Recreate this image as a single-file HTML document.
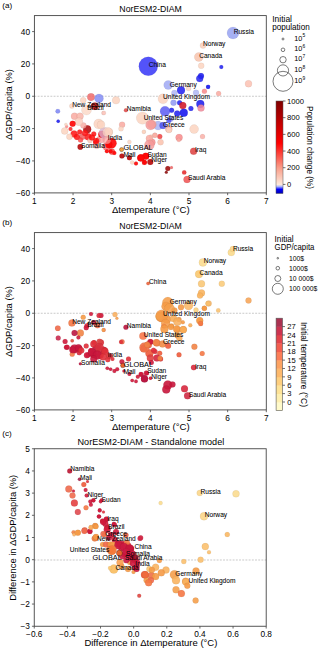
<!DOCTYPE html><html><head><meta charset="utf-8"><style>html,body{margin:0;padding:0;background:#fff;width:320px;height:652px;overflow:hidden}svg{display:block}text{font-family:"Liberation Sans",sans-serif}</style></head><body>
<svg width="320" height="652" viewBox="0 0 320 652">
<rect width="320" height="652" fill="#fff"/>
<text x="2.3" y="8.1" font-size="8.1" text-anchor="start" fill="#000" >(a)</text>
<text x="2.3" y="225.4" font-size="8.1" text-anchor="start" fill="#000" >(b)</text>
<text x="2.3" y="435.5" font-size="8.1" text-anchor="start" fill="#000" >(c)</text>
<line x1="34.4" y1="96.25" x2="266.3" y2="96.25" stroke="#bbb" stroke-width="0.8" stroke-dasharray="1.9,1.3"/>
<circle cx="148.3" cy="66.3" r="9.5" fill="#4040f8" fill-opacity="0.9" stroke="#000" stroke-opacity="0.12" stroke-width="0.4"/>
<circle cx="233" cy="33" r="6" fill="#97a2f2" fill-opacity="0.85" stroke="#000" stroke-opacity="0.12" stroke-width="0.4"/>
<circle cx="203" cy="45.5" r="3" fill="#fbd3bf" fill-opacity="0.9" stroke="#000" stroke-opacity="0.12" stroke-width="0.4"/>
<circle cx="198.8" cy="57" r="4.5" fill="#f8c3ad" fill-opacity="0.85" stroke="#000" stroke-opacity="0.12" stroke-width="0.4"/>
<circle cx="201.2" cy="65.8" r="3" fill="#fbd3bf" fill-opacity="0.85" stroke="#000" stroke-opacity="0.12" stroke-width="0.4"/>
<circle cx="221.3" cy="67" r="2" fill="#2a2af2" fill-opacity="0.9" stroke="#000" stroke-opacity="0.12" stroke-width="0.4"/>
<circle cx="201" cy="76" r="3" fill="#2424f0" fill-opacity="0.9" stroke="#000" stroke-opacity="0.12" stroke-width="0.4"/>
<circle cx="199.7" cy="78.5" r="3.5" fill="#2424f0" fill-opacity="0.85" stroke="#000" stroke-opacity="0.12" stroke-width="0.4"/>
<circle cx="168.2" cy="85" r="4.5" fill="#9aa4f4" fill-opacity="0.8" stroke="#000" stroke-opacity="0.12" stroke-width="0.4"/>
<circle cx="181" cy="90.3" r="4" fill="#2a2af2" fill-opacity="0.9" stroke="#000" stroke-opacity="0.12" stroke-width="0.4"/>
<circle cx="188.5" cy="88.5" r="2.5" fill="#fbd9c8" fill-opacity="0.9" stroke="#000" stroke-opacity="0.12" stroke-width="0.4"/>
<circle cx="204.4" cy="91.3" r="2.5" fill="#f88a8a" fill-opacity="0.85" stroke="#000" stroke-opacity="0.12" stroke-width="0.4"/>
<circle cx="208" cy="87" r="2" fill="#2a2af2" fill-opacity="0.9" stroke="#000" stroke-opacity="0.12" stroke-width="0.4"/>
<circle cx="208.2" cy="86.8" r="2" fill="#2a2af2" fill-opacity="0.9" stroke="#000" stroke-opacity="0.12" stroke-width="0.4"/>
<circle cx="196" cy="92.8" r="3" fill="#aab2f4" fill-opacity="0.8" stroke="#000" stroke-opacity="0.12" stroke-width="0.4"/>
<circle cx="174.4" cy="93" r="3" fill="#aab2f4" fill-opacity="0.8" stroke="#000" stroke-opacity="0.12" stroke-width="0.4"/>
<circle cx="163" cy="98.8" r="5" fill="#fbd3c0" fill-opacity="0.85" stroke="#000" stroke-opacity="0.12" stroke-width="0.4"/>
<circle cx="248.5" cy="83.7" r="3.5" fill="#fbc1b1" fill-opacity="0.85" stroke="#000" stroke-opacity="0.12" stroke-width="0.4"/>
<circle cx="218.6" cy="93.6" r="2.5" fill="#f9a9a0" fill-opacity="0.85" stroke="#000" stroke-opacity="0.12" stroke-width="0.4"/>
<circle cx="173.5" cy="102.8" r="3" fill="#8f98f2" fill-opacity="0.85" stroke="#000" stroke-opacity="0.12" stroke-width="0.4"/>
<circle cx="179.6" cy="102.8" r="2.5" fill="#2a2af2" fill-opacity="0.9" stroke="#000" stroke-opacity="0.12" stroke-width="0.4"/>
<circle cx="182.8" cy="105.6" r="3.5" fill="#d41e2e" fill-opacity="0.9" stroke="#000" stroke-opacity="0.12" stroke-width="0.4"/>
<circle cx="171.6" cy="110.3" r="2.5" fill="#2a2af2" fill-opacity="0.9" stroke="#000" stroke-opacity="0.12" stroke-width="0.4"/>
<circle cx="190.9" cy="108.4" r="2.5" fill="#2a2af2" fill-opacity="0.9" stroke="#000" stroke-opacity="0.12" stroke-width="0.4"/>
<circle cx="200.3" cy="104.1" r="4" fill="#2424f0" fill-opacity="0.9" stroke="#000" stroke-opacity="0.12" stroke-width="0.4"/>
<circle cx="201" cy="107.9" r="3.5" fill="#f28a9a" fill-opacity="0.85" stroke="#000" stroke-opacity="0.12" stroke-width="0.4"/>
<circle cx="165" cy="111.2" r="5" fill="#5a5af2" fill-opacity="0.85" stroke="#000" stroke-opacity="0.12" stroke-width="0.4"/>
<circle cx="183.8" cy="112.8" r="4" fill="#1818f0" fill-opacity="0.9" stroke="#000" stroke-opacity="0.12" stroke-width="0.4"/>
<circle cx="177.2" cy="113.5" r="3" fill="#2a2af2" fill-opacity="0.9" stroke="#000" stroke-opacity="0.12" stroke-width="0.4"/>
<circle cx="170.6" cy="118.8" r="3" fill="#9aa2f2" fill-opacity="0.8" stroke="#000" stroke-opacity="0.12" stroke-width="0.4"/>
<circle cx="168.8" cy="120.6" r="2.5" fill="#4a4af2" fill-opacity="0.8" stroke="#000" stroke-opacity="0.12" stroke-width="0.4"/>
<circle cx="158.1" cy="125.6" r="4.5" fill="#a4acf4" fill-opacity="0.8" stroke="#000" stroke-opacity="0.12" stroke-width="0.4"/>
<circle cx="163" cy="125.6" r="3.5" fill="#4a50f0" fill-opacity="0.85" stroke="#000" stroke-opacity="0.12" stroke-width="0.4"/>
<circle cx="151.9" cy="124.4" r="4.5" fill="#f9a9a0" fill-opacity="0.85" stroke="#000" stroke-opacity="0.12" stroke-width="0.4"/>
<circle cx="168.8" cy="129.1" r="3.5" fill="#f9a9a0" fill-opacity="0.85" stroke="#000" stroke-opacity="0.12" stroke-width="0.4"/>
<circle cx="194.1" cy="129.1" r="4.5" fill="#fbd3c0" fill-opacity="0.85" stroke="#000" stroke-opacity="0.12" stroke-width="0.4"/>
<circle cx="179.1" cy="137.5" r="3.5" fill="#f88a8a" fill-opacity="0.85" stroke="#000" stroke-opacity="0.12" stroke-width="0.4"/>
<circle cx="202.5" cy="136.6" r="2.5" fill="#f9b0a8" fill-opacity="0.85" stroke="#000" stroke-opacity="0.12" stroke-width="0.4"/>
<circle cx="159.8" cy="136.6" r="2.5" fill="#f04040" fill-opacity="0.85" stroke="#000" stroke-opacity="0.12" stroke-width="0.4"/>
<circle cx="154.7" cy="135.3" r="2.5" fill="#fbd3c0" fill-opacity="0.85" stroke="#000" stroke-opacity="0.12" stroke-width="0.4"/>
<circle cx="151" cy="136.6" r="2" fill="#fbd3c0" fill-opacity="0.85" stroke="#000" stroke-opacity="0.12" stroke-width="0.4"/>
<circle cx="151.9" cy="142.2" r="3.5" fill="#f88a8a" fill-opacity="0.85" stroke="#000" stroke-opacity="0.12" stroke-width="0.4"/>
<circle cx="160.3" cy="142.2" r="2.5" fill="#fbc9b6" fill-opacity="0.85" stroke="#000" stroke-opacity="0.12" stroke-width="0.4"/>
<circle cx="87.2" cy="129.3" r="4" fill="#b41414" fill-opacity="0.9" stroke="#000" stroke-opacity="0.12" stroke-width="0.4"/>
<circle cx="74.1" cy="134" r="3.5" fill="#ff1010" fill-opacity="0.85" stroke="#000" stroke-opacity="0.12" stroke-width="0.4"/>
<circle cx="79.7" cy="132" r="2.5" fill="#ff1010" fill-opacity="0.85" stroke="#000" stroke-opacity="0.12" stroke-width="0.4"/>
<circle cx="88.1" cy="136.75" r="3.5" fill="#ff1818" fill-opacity="0.85" stroke="#000" stroke-opacity="0.12" stroke-width="0.4"/>
<circle cx="82.5" cy="136.75" r="3" fill="#f55050" fill-opacity="0.8" stroke="#000" stroke-opacity="0.12" stroke-width="0.4"/>
<circle cx="93.75" cy="134" r="2.5" fill="#ff1010" fill-opacity="0.85" stroke="#000" stroke-opacity="0.12" stroke-width="0.4"/>
<circle cx="95.6" cy="142.4" r="2.5" fill="#ff2020" fill-opacity="0.85" stroke="#000" stroke-opacity="0.12" stroke-width="0.4"/>
<circle cx="90" cy="140.5" r="2.5" fill="#fbc0b0" fill-opacity="0.8" stroke="#000" stroke-opacity="0.12" stroke-width="0.4"/>
<circle cx="64.7" cy="131" r="3.5" fill="#fbd3c0" fill-opacity="0.85" stroke="#000" stroke-opacity="0.12" stroke-width="0.4"/>
<circle cx="69.4" cy="136.75" r="3" fill="#fbd3c0" fill-opacity="0.85" stroke="#000" stroke-opacity="0.12" stroke-width="0.4"/>
<circle cx="66.6" cy="126.4" r="1.5" fill="#f88" fill-opacity="0.85" stroke="#000" stroke-opacity="0.12" stroke-width="0.4"/>
<circle cx="83.4" cy="125.5" r="3" fill="#f9a9a0" fill-opacity="0.8" stroke="#000" stroke-opacity="0.12" stroke-width="0.4"/>
<circle cx="77" cy="137" r="3" fill="#ff1010" fill-opacity="0.85" stroke="#000" stroke-opacity="0.12" stroke-width="0.4"/>
<circle cx="85" cy="133" r="3" fill="#ff1818" fill-opacity="0.85" stroke="#000" stroke-opacity="0.12" stroke-width="0.4"/>
<circle cx="92" cy="137.5" r="3" fill="#ff1010" fill-opacity="0.85" stroke="#000" stroke-opacity="0.12" stroke-width="0.4"/>
<circle cx="98" cy="140" r="2.5" fill="#ff2020" fill-opacity="0.85" stroke="#000" stroke-opacity="0.12" stroke-width="0.4"/>
<circle cx="70.5" cy="129" r="2" fill="#ff2020" fill-opacity="0.85" stroke="#000" stroke-opacity="0.12" stroke-width="0.4"/>
<circle cx="80.5" cy="140" r="2.5" fill="#ff4040" fill-opacity="0.8" stroke="#000" stroke-opacity="0.12" stroke-width="0.4"/>
<circle cx="101.1" cy="139" r="4" fill="#f9a0a0" fill-opacity="0.8" stroke="#000" stroke-opacity="0.12" stroke-width="0.4"/>
<circle cx="106.75" cy="146.5" r="4.2" fill="#ff7070" fill-opacity="0.85" stroke="#000" stroke-opacity="0.12" stroke-width="0.4"/>
<circle cx="96.75" cy="145.9" r="3" fill="#f9b0b0" fill-opacity="0.7" stroke="#000" stroke-opacity="0.12" stroke-width="0.4"/>
<circle cx="96.1" cy="140.9" r="3" fill="#ff1010" fill-opacity="0.85" stroke="#000" stroke-opacity="0.12" stroke-width="0.4"/>
<circle cx="112" cy="151.8" r="3" fill="#ff4646" fill-opacity="0.9" stroke="#000" stroke-opacity="0.12" stroke-width="0.4"/>
<circle cx="57.8" cy="111.2" r="2.3" fill="#7a84f4" fill-opacity="0.85" stroke="#000" stroke-opacity="0.12" stroke-width="0.4"/>
<circle cx="58.2" cy="121.3" r="1.7" fill="#2020f0" fill-opacity="0.9" stroke="#000" stroke-opacity="0.12" stroke-width="0.4"/>
<circle cx="91" cy="97.1" r="3.8" fill="#f06a6a" fill-opacity="0.85" stroke="#000" stroke-opacity="0.12" stroke-width="0.4"/>
<circle cx="99" cy="98.4" r="4.5" fill="#7c86f4" fill-opacity="0.8" stroke="#000" stroke-opacity="0.12" stroke-width="0.4"/>
<circle cx="83.2" cy="100.3" r="3" fill="#fbd3c0" fill-opacity="0.85" stroke="#000" stroke-opacity="0.12" stroke-width="0.4"/>
<circle cx="71.9" cy="106" r="2.5" fill="#fbd3c0" fill-opacity="0.85" stroke="#000" stroke-opacity="0.12" stroke-width="0.4"/>
<circle cx="86.5" cy="110" r="5" fill="#fbd9c8" fill-opacity="0.85" stroke="#000" stroke-opacity="0.12" stroke-width="0.4"/>
<circle cx="94.75" cy="106.25" r="3.8" fill="#c00808" fill-opacity="0.85" stroke="#000" stroke-opacity="0.12" stroke-width="0.4"/>
<circle cx="74.5" cy="116.25" r="3.5" fill="#f9a9a0" fill-opacity="0.85" stroke="#000" stroke-opacity="0.12" stroke-width="0.4"/>
<circle cx="80" cy="116.25" r="3.5" fill="#f9b4a8" fill-opacity="0.85" stroke="#000" stroke-opacity="0.12" stroke-width="0.4"/>
<circle cx="103.4" cy="113.1" r="2" fill="#fbc1b6" fill-opacity="0.85" stroke="#000" stroke-opacity="0.12" stroke-width="0.4"/>
<circle cx="78.9" cy="121.7" r="4" fill="#fbcfc0" fill-opacity="0.85" stroke="#000" stroke-opacity="0.12" stroke-width="0.4"/>
<circle cx="72.6" cy="123.75" r="3" fill="#ff0808" fill-opacity="0.92" stroke="#000" stroke-opacity="0.12" stroke-width="0.4"/>
<circle cx="65.9" cy="124.4" r="1.5" fill="#fbd3c0" fill-opacity="0.85" stroke="#000" stroke-opacity="0.12" stroke-width="0.4"/>
<circle cx="98.7" cy="124" r="5" fill="#fbd3c0" fill-opacity="0.85" stroke="#000" stroke-opacity="0.12" stroke-width="0.4"/>
<circle cx="101.8" cy="134.2" r="3.5" fill="#ff0808" fill-opacity="0.92" stroke="#000" stroke-opacity="0.12" stroke-width="0.4"/>
<circle cx="104.5" cy="133" r="5.5" fill="#d8b0d0" fill-opacity="0.8" stroke="#000" stroke-opacity="0.12" stroke-width="0.4"/>
<circle cx="108.9" cy="131.9" r="4" fill="#fbd3c0" fill-opacity="0.85" stroke="#000" stroke-opacity="0.12" stroke-width="0.4"/>
<circle cx="80.3" cy="146.9" r="2.8" fill="#b80c0c" fill-opacity="0.92" stroke="#000" stroke-opacity="0.12" stroke-width="0.4"/>
<circle cx="116" cy="100.3" r="3.8" fill="#fbd3c0" fill-opacity="0.85" stroke="#000" stroke-opacity="0.12" stroke-width="0.4"/>
<circle cx="125.9" cy="110.3" r="2" fill="#e05050" fill-opacity="0.9" stroke="#000" stroke-opacity="0.12" stroke-width="0.4"/>
<circle cx="104" cy="112.9" r="2" fill="#fbc9c0" fill-opacity="0.85" stroke="#000" stroke-opacity="0.12" stroke-width="0.4"/>
<circle cx="142.5" cy="118.1" r="6.2" fill="#fbd3c0" fill-opacity="0.85" stroke="#000" stroke-opacity="0.12" stroke-width="0.4"/>
<circle cx="122.1" cy="124.7" r="3" fill="#f9a9a0" fill-opacity="0.85" stroke="#000" stroke-opacity="0.12" stroke-width="0.4"/>
<circle cx="150.6" cy="125" r="5" fill="#f59a9a" fill-opacity="0.85" stroke="#000" stroke-opacity="0.12" stroke-width="0.4"/>
<circle cx="144" cy="131.7" r="1.8" fill="#fbd3c0" fill-opacity="0.85" stroke="#000" stroke-opacity="0.12" stroke-width="0.4"/>
<circle cx="107.5" cy="132.2" r="5" fill="#fbd3c0" fill-opacity="0.7" stroke="#000" stroke-opacity="0.12" stroke-width="0.4"/>
<circle cx="101" cy="124.7" r="4" fill="#fbd3c0" fill-opacity="0.8" stroke="#000" stroke-opacity="0.12" stroke-width="0.4"/>
<circle cx="111.3" cy="143.2" r="5.3" fill="#ff0808" fill-opacity="0.92" stroke="#000" stroke-opacity="0.12" stroke-width="0.4"/>
<circle cx="108.8" cy="144.7" r="3.5" fill="#ff0808" fill-opacity="0.92" stroke="#000" stroke-opacity="0.12" stroke-width="0.4"/>
<circle cx="106.9" cy="140" r="4" fill="#f9a0a0" fill-opacity="0.7" stroke="#000" stroke-opacity="0.12" stroke-width="0.4"/>
<circle cx="110.6" cy="151.3" r="2" fill="#ff0808" fill-opacity="0.92" stroke="#000" stroke-opacity="0.12" stroke-width="0.4"/>
<circle cx="114.4" cy="153.1" r="2" fill="#ff0808" fill-opacity="0.92" stroke="#000" stroke-opacity="0.12" stroke-width="0.4"/>
<circle cx="106.9" cy="151.3" r="2" fill="#ff0808" fill-opacity="0.92" stroke="#000" stroke-opacity="0.12" stroke-width="0.4"/>
<circle cx="121" cy="128.8" r="2.5" fill="#fbd3c0" fill-opacity="0.85" stroke="#000" stroke-opacity="0.12" stroke-width="0.4"/>
<circle cx="129.4" cy="141.9" r="2" fill="#fbd3c0" fill-opacity="0.85" stroke="#000" stroke-opacity="0.12" stroke-width="0.4"/>
<circle cx="121.9" cy="156" r="2.5" fill="#b80c0c" fill-opacity="0.92" stroke="#000" stroke-opacity="0.12" stroke-width="0.4"/>
<circle cx="129.4" cy="157.8" r="2.5" fill="#b80c0c" fill-opacity="0.92" stroke="#000" stroke-opacity="0.12" stroke-width="0.4"/>
<circle cx="140.7" cy="157.8" r="3.5" fill="#ff0808" fill-opacity="0.92" stroke="#000" stroke-opacity="0.12" stroke-width="0.4"/>
<circle cx="146.3" cy="156" r="3" fill="#ff0808" fill-opacity="0.92" stroke="#000" stroke-opacity="0.12" stroke-width="0.4"/>
<circle cx="136" cy="163.5" r="2" fill="#ff0808" fill-opacity="0.92" stroke="#000" stroke-opacity="0.12" stroke-width="0.4"/>
<circle cx="132.2" cy="162.5" r="2" fill="#fbd3c0" fill-opacity="0.85" stroke="#000" stroke-opacity="0.12" stroke-width="0.4"/>
<circle cx="144.4" cy="162.5" r="2.5" fill="#ff0808" fill-opacity="0.92" stroke="#000" stroke-opacity="0.12" stroke-width="0.4"/>
<circle cx="143.8" cy="131.9" r="2" fill="#fbd3c0" fill-opacity="0.85" stroke="#000" stroke-opacity="0.12" stroke-width="0.4"/>
<circle cx="155" cy="135.3" r="2.5" fill="#f9a9a0" fill-opacity="0.85" stroke="#000" stroke-opacity="0.12" stroke-width="0.4"/>
<circle cx="149.4" cy="138.4" r="3.5" fill="#f9a9a0" fill-opacity="0.85" stroke="#000" stroke-opacity="0.12" stroke-width="0.4"/>
<circle cx="149.4" cy="145" r="5" fill="#f59a9a" fill-opacity="0.85" stroke="#000" stroke-opacity="0.12" stroke-width="0.4"/>
<circle cx="160.6" cy="142.2" r="3" fill="#fbc9b6" fill-opacity="0.85" stroke="#000" stroke-opacity="0.12" stroke-width="0.4"/>
<circle cx="169" cy="130" r="3" fill="#fbd3c0" fill-opacity="0.85" stroke="#000" stroke-opacity="0.12" stroke-width="0.4"/>
<circle cx="145.6" cy="156.3" r="3.5" fill="#ff0808" fill-opacity="0.92" stroke="#000" stroke-opacity="0.12" stroke-width="0.4"/>
<circle cx="141" cy="158.1" r="3.5" fill="#ff0808" fill-opacity="0.92" stroke="#000" stroke-opacity="0.12" stroke-width="0.4"/>
<circle cx="150.3" cy="161.9" r="3" fill="#b80c0c" fill-opacity="0.92" stroke="#000" stroke-opacity="0.12" stroke-width="0.4"/>
<circle cx="144.7" cy="161.9" r="2" fill="#ff0808" fill-opacity="0.92" stroke="#000" stroke-opacity="0.12" stroke-width="0.4"/>
<circle cx="193.6" cy="151.2" r="3.5" fill="#e04848" fill-opacity="0.9" stroke="#000" stroke-opacity="0.12" stroke-width="0.4"/>
<circle cx="167.8" cy="168.5" r="2.5" fill="#a01010" fill-opacity="0.9" stroke="#000" stroke-opacity="0.12" stroke-width="0.4"/>
<circle cx="171.5" cy="167.5" r="1.5" fill="#f06060" fill-opacity="0.85" stroke="#000" stroke-opacity="0.12" stroke-width="0.4"/>
<circle cx="166.3" cy="172.2" r="1.5" fill="#901010" fill-opacity="0.9" stroke="#000" stroke-opacity="0.12" stroke-width="0.4"/>
<circle cx="184.2" cy="172.4" r="2.2" fill="#e83030" fill-opacity="0.9" stroke="#000" stroke-opacity="0.12" stroke-width="0.4"/>
<circle cx="187" cy="179.5" r="3.5" fill="#f05050" fill-opacity="0.85" stroke="#000" stroke-opacity="0.12" stroke-width="0.4"/>
<circle cx="178.8" cy="140" r="2" fill="#f9a9a0" fill-opacity="0.85" stroke="#000" stroke-opacity="0.12" stroke-width="0.4"/>
<circle cx="121.6" cy="149.6" r="2.1" fill="#f0a040" fill-opacity="1" stroke="#000" stroke-opacity="0.7" stroke-width="0.4"/>
<text x="81" y="147.8" font-size="6.6" fill="#000" stroke="#000" stroke-width="0.05">Somalia</text>
<text x="107.8" y="139.8" font-size="6.6" fill="#000" stroke="#000" stroke-width="0.05">India</text>
<text x="123.4" y="150.3" font-size="7.3" fill="#000" stroke="#000" stroke-width="0.05">GLOBAL</text>
<text x="123.4" y="156.7" font-size="6.6" fill="#000" stroke="#000" stroke-width="0.05">Mali</text>
<text x="147.5" y="157" font-size="6.6" fill="#000" stroke="#000" stroke-width="0.05">Sudan</text>
<text x="151.3" y="162.2" font-size="6.6" fill="#000" stroke="#000" stroke-width="0.05">Niger</text>
<text x="195" y="152" font-size="6.6" fill="#000" stroke="#000" stroke-width="0.05">Iraq</text>
<text x="188" y="180.1" font-size="6.6" fill="#000" stroke="#000" stroke-width="0.05">Saudi Arabia</text>
<text x="72.2" y="106.6" font-size="6.6" fill="#000" stroke="#000" stroke-width="0.05">New Zealand</text>
<text x="87.2" y="110.3" font-size="6.6" fill="#000" stroke="#000" stroke-width="0.05">Brazil</text>
<text x="126.8" y="111" font-size="6.6" fill="#000" stroke="#000" stroke-width="0.05">Namibia</text>
<text x="143.7" y="120.4" font-size="6.6" fill="#000" stroke="#000" stroke-width="0.05">United States</text>
<text x="163.1" y="127" font-size="6.6" fill="#000" stroke="#000" stroke-width="0.05">Greece</text>
<text x="169.7" y="87.3" font-size="6.6" fill="#000" stroke="#000" stroke-width="0.05">Germany</text>
<text x="163" y="98.6" font-size="6.6" fill="#000" stroke="#000" stroke-width="0.05">United Kingdom</text>
<text x="148.7" y="67.1" font-size="6.6" fill="#000" stroke="#000" stroke-width="0.05">China</text>
<text x="233.7" y="33.9" font-size="6.6" fill="#000" stroke="#000" stroke-width="0.05">Russia</text>
<text x="203" y="46.3" font-size="6.6" fill="#000" stroke="#000" stroke-width="0.05">Norway</text>
<text x="199.2" y="58.1" font-size="6.6" fill="#000" stroke="#000" stroke-width="0.05">Canada</text>

<rect x="34.4" y="15.6" width="231.9" height="177.3" fill="none" stroke="#444" stroke-width="0.9"/>
<line x1="34.40" y1="192.9" x2="34.40" y2="195.20000000000002" stroke="#444" stroke-width="0.8"/>
<text x="34.40" y="203.5" font-size="8.3" text-anchor="middle" fill="#000" >1</text>
<line x1="73.05" y1="192.9" x2="73.05" y2="195.20000000000002" stroke="#444" stroke-width="0.8"/>
<text x="73.05" y="203.5" font-size="8.3" text-anchor="middle" fill="#000" >2</text>
<line x1="111.70" y1="192.9" x2="111.70" y2="195.20000000000002" stroke="#444" stroke-width="0.8"/>
<text x="111.70" y="203.5" font-size="8.3" text-anchor="middle" fill="#000" >3</text>
<line x1="150.35" y1="192.9" x2="150.35" y2="195.20000000000002" stroke="#444" stroke-width="0.8"/>
<text x="150.35" y="203.5" font-size="8.3" text-anchor="middle" fill="#000" >4</text>
<line x1="189.00" y1="192.9" x2="189.00" y2="195.20000000000002" stroke="#444" stroke-width="0.8"/>
<text x="189.00" y="203.5" font-size="8.3" text-anchor="middle" fill="#000" >5</text>
<line x1="227.65" y1="192.9" x2="227.65" y2="195.20000000000002" stroke="#444" stroke-width="0.8"/>
<text x="227.65" y="203.5" font-size="8.3" text-anchor="middle" fill="#000" >6</text>
<line x1="266.30" y1="192.9" x2="266.30" y2="195.20000000000002" stroke="#444" stroke-width="0.8"/>
<text x="266.30" y="203.5" font-size="8.3" text-anchor="middle" fill="#000" >7</text>
<line x1="32.1" y1="31.59" x2="34.4" y2="31.59" stroke="#444" stroke-width="0.8"/>
<text x="30.099999999999998" y="34.59" font-size="8.3" text-anchor="end" fill="#000" >40</text>
<line x1="32.1" y1="63.92" x2="34.4" y2="63.92" stroke="#444" stroke-width="0.8"/>
<text x="30.099999999999998" y="66.92" font-size="8.3" text-anchor="end" fill="#000" >20</text>
<line x1="32.1" y1="96.25" x2="34.4" y2="96.25" stroke="#444" stroke-width="0.8"/>
<text x="30.099999999999998" y="99.25" font-size="8.3" text-anchor="end" fill="#000" >0</text>
<line x1="32.1" y1="128.58" x2="34.4" y2="128.58" stroke="#444" stroke-width="0.8"/>
<text x="30.099999999999998" y="131.58" font-size="8.3" text-anchor="end" fill="#000" >−20</text>
<line x1="32.1" y1="160.91" x2="34.4" y2="160.91" stroke="#444" stroke-width="0.8"/>
<text x="30.099999999999998" y="163.91" font-size="8.3" text-anchor="end" fill="#000" >−40</text>
<line x1="32.1" y1="193.24" x2="34.4" y2="193.24" stroke="#444" stroke-width="0.8"/>
<text x="30.099999999999998" y="196.24" font-size="8.3" text-anchor="end" fill="#000" >−60</text>
<text x="150.6" y="11.8" font-size="8.2" text-anchor="middle" textLength="62.5" lengthAdjust="spacingAndGlyphs" fill="#000" >NorESM2-DIAM</text>
<text x="150.8" y="212.70000000000002" font-size="8.9" text-anchor="middle" textLength="77.8" lengthAdjust="spacingAndGlyphs" fill="#000" >Δtemperature (°C)</text>
<text transform="translate(11.5,104.6) rotate(-90)" font-size="8.6" text-anchor="middle" textLength="71" lengthAdjust="spacingAndGlyphs">ΔGDP/capita (%)</text>
<line x1="34.4" y1="313.25" x2="266.3" y2="313.25" stroke="#bbb" stroke-width="0.8" stroke-dasharray="1.9,1.3"/>
<circle cx="231.3" cy="252.5" r="3.5" fill="#fbda8c" fill-opacity="0.9" stroke="#000" stroke-opacity="0.12" stroke-width="0.4"/>
<circle cx="232.9" cy="249" r="3" fill="#fbd68a" fill-opacity="0.9" stroke="#000" stroke-opacity="0.12" stroke-width="0.4"/>
<circle cx="202.9" cy="262.4" r="4" fill="#fbdc90" fill-opacity="0.9" stroke="#000" stroke-opacity="0.12" stroke-width="0.4"/>
<circle cx="199" cy="274.1" r="3.9" fill="#fac86e" fill-opacity="0.9" stroke="#000" stroke-opacity="0.12" stroke-width="0.4"/>
<circle cx="148.1" cy="283.5" r="1.8" fill="#ec6a46" fill-opacity="0.95" stroke="#000" stroke-opacity="0.12" stroke-width="0.4"/>
<circle cx="201.5" cy="283.7" r="3.5" fill="#fac878" fill-opacity="0.9" stroke="#000" stroke-opacity="0.12" stroke-width="0.4"/>
<circle cx="221.8" cy="283.7" r="3" fill="#fbcc7c" fill-opacity="0.9" stroke="#000" stroke-opacity="0.12" stroke-width="0.4"/>
<circle cx="201.5" cy="292.9" r="3.5" fill="#f9b45e" fill-opacity="0.9" stroke="#000" stroke-opacity="0.12" stroke-width="0.4"/>
<circle cx="200" cy="295.6" r="3" fill="#f9b45e" fill-opacity="0.9" stroke="#000" stroke-opacity="0.12" stroke-width="0.4"/>
<circle cx="248.5" cy="300.6" r="3" fill="#f7a65a" fill-opacity="0.9" stroke="#000" stroke-opacity="0.12" stroke-width="0.4"/>
<circle cx="208.7" cy="303.4" r="3" fill="#fabd72" fill-opacity="0.9" stroke="#000" stroke-opacity="0.12" stroke-width="0.4"/>
<circle cx="204.3" cy="308.3" r="2.5" fill="#f59a46" fill-opacity="0.9" stroke="#000" stroke-opacity="0.12" stroke-width="0.4"/>
<circle cx="218.3" cy="310.4" r="2.2" fill="#fac270" fill-opacity="0.9" stroke="#000" stroke-opacity="0.12" stroke-width="0.4"/>
<circle cx="200" cy="321" r="3" fill="#f7a458" fill-opacity="0.9" stroke="#000" stroke-opacity="0.12" stroke-width="0.4"/>
<circle cx="200.8" cy="324" r="2" fill="#ef7444" fill-opacity="0.9" stroke="#000" stroke-opacity="0.12" stroke-width="0.4"/>
<circle cx="167.8" cy="302.6" r="5.5" fill="#f5a04c" fill-opacity="0.9" stroke="#000" stroke-opacity="0.12" stroke-width="0.4"/>
<circle cx="166" cy="306.4" r="4.5" fill="#f59a46" fill-opacity="0.9" stroke="#000" stroke-opacity="0.12" stroke-width="0.4"/>
<circle cx="181" cy="307.3" r="3" fill="#f59a46" fill-opacity="0.9" stroke="#000" stroke-opacity="0.12" stroke-width="0.4"/>
<circle cx="188.5" cy="305.5" r="4.5" fill="#fbba6a" fill-opacity="0.9" stroke="#000" stroke-opacity="0.12" stroke-width="0.4"/>
<circle cx="204.4" cy="308.3" r="2.5" fill="#f59a46" fill-opacity="0.9" stroke="#000" stroke-opacity="0.12" stroke-width="0.4"/>
<circle cx="208" cy="303.6" r="2.5" fill="#fabf6a" fill-opacity="0.9" stroke="#000" stroke-opacity="0.12" stroke-width="0.4"/>
<circle cx="196" cy="310" r="2.5" fill="#fbcf80" fill-opacity="0.9" stroke="#000" stroke-opacity="0.12" stroke-width="0.4"/>
<circle cx="174.4" cy="310.5" r="3" fill="#f59a46" fill-opacity="0.9" stroke="#000" stroke-opacity="0.12" stroke-width="0.4"/>
<circle cx="161.3" cy="316.7" r="5.5" fill="#f39448" fill-opacity="0.9" stroke="#000" stroke-opacity="0.12" stroke-width="0.4"/>
<circle cx="166.9" cy="319.5" r="4" fill="#f59a46" fill-opacity="0.9" stroke="#000" stroke-opacity="0.12" stroke-width="0.4"/>
<circle cx="173.5" cy="318.6" r="3.5" fill="#f8ae5a" fill-opacity="0.9" stroke="#000" stroke-opacity="0.12" stroke-width="0.4"/>
<circle cx="179" cy="319.5" r="2.5" fill="#f59a46" fill-opacity="0.9" stroke="#000" stroke-opacity="0.12" stroke-width="0.4"/>
<circle cx="182.8" cy="322.3" r="2" fill="#f59a46" fill-opacity="0.9" stroke="#000" stroke-opacity="0.12" stroke-width="0.4"/>
<circle cx="199.7" cy="320.5" r="3.5" fill="#f59a46" fill-opacity="0.9" stroke="#000" stroke-opacity="0.12" stroke-width="0.4"/>
<circle cx="190.3" cy="325.2" r="2" fill="#f8ae5a" fill-opacity="0.9" stroke="#000" stroke-opacity="0.12" stroke-width="0.4"/>
<circle cx="200.6" cy="323.6" r="2.5" fill="#f57845" fill-opacity="0.9" stroke="#000" stroke-opacity="0.12" stroke-width="0.4"/>
<circle cx="164" cy="326" r="2.5" fill="#e0303a" fill-opacity="0.9" stroke="#000" stroke-opacity="0.12" stroke-width="0.4"/>
<circle cx="171.6" cy="326" r="2.5" fill="#f59a46" fill-opacity="0.9" stroke="#000" stroke-opacity="0.12" stroke-width="0.4"/>
<circle cx="159" cy="316.4" r="3.5" fill="#f9b85e" fill-opacity="0.9" stroke="#000" stroke-opacity="0.12" stroke-width="0.4"/>
<circle cx="115" cy="314.5" r="2.5" fill="#f9b060" fill-opacity="0.9" stroke="#000" stroke-opacity="0.12" stroke-width="0.4"/>
<circle cx="116.9" cy="318.3" r="1.5" fill="#f7a050" fill-opacity="0.9" stroke="#000" stroke-opacity="0.12" stroke-width="0.4"/>
<circle cx="161.7" cy="315.7" r="6" fill="#f59a46" fill-opacity="0.85" stroke="#000" stroke-opacity="0.12" stroke-width="0.4"/>
<circle cx="169.5" cy="308.5" r="5" fill="#f5a04c" fill-opacity="0.85" stroke="#000" stroke-opacity="0.12" stroke-width="0.4"/>
<circle cx="165.6" cy="323.6" r="4.5" fill="#f59a46" fill-opacity="0.85" stroke="#000" stroke-opacity="0.12" stroke-width="0.4"/>
<circle cx="177.4" cy="321.7" r="4" fill="#f8ae5a" fill-opacity="0.85" stroke="#000" stroke-opacity="0.12" stroke-width="0.4"/>
<circle cx="183.3" cy="329.5" r="3.5" fill="#f59a46" fill-opacity="0.85" stroke="#000" stroke-opacity="0.12" stroke-width="0.4"/>
<circle cx="177.4" cy="329.5" r="3.5" fill="#f9a850" fill-opacity="0.85" stroke="#000" stroke-opacity="0.12" stroke-width="0.4"/>
<circle cx="202.2" cy="353.4" r="2.5" fill="#f57845" fill-opacity="0.9" stroke="#000" stroke-opacity="0.12" stroke-width="0.4"/>
<circle cx="143.1" cy="336" r="3.8" fill="#fa784b" fill-opacity="0.9" stroke="#000" stroke-opacity="0.12" stroke-width="0.4"/>
<circle cx="164.4" cy="328.9" r="4" fill="#f59a46" fill-opacity="0.9" stroke="#000" stroke-opacity="0.12" stroke-width="0.4"/>
<circle cx="171" cy="327" r="3" fill="#f59a46" fill-opacity="0.9" stroke="#000" stroke-opacity="0.12" stroke-width="0.4"/>
<circle cx="176.6" cy="328.9" r="3.5" fill="#f59a46" fill-opacity="0.9" stroke="#000" stroke-opacity="0.12" stroke-width="0.4"/>
<circle cx="183.2" cy="329.8" r="3.5" fill="#f9ac56" fill-opacity="0.9" stroke="#000" stroke-opacity="0.12" stroke-width="0.4"/>
<circle cx="177.5" cy="335.4" r="3" fill="#f59a46" fill-opacity="0.9" stroke="#000" stroke-opacity="0.12" stroke-width="0.4"/>
<circle cx="179.4" cy="338.3" r="3" fill="#f9b060" fill-opacity="0.9" stroke="#000" stroke-opacity="0.12" stroke-width="0.4"/>
<circle cx="150.3" cy="342" r="3" fill="#d6263c" fill-opacity="0.9" stroke="#000" stroke-opacity="0.12" stroke-width="0.4"/>
<circle cx="148.4" cy="344.8" r="3.5" fill="#ee5a3a" fill-opacity="0.9" stroke="#000" stroke-opacity="0.12" stroke-width="0.4"/>
<circle cx="143.75" cy="348.6" r="3.5" fill="#ee5a3a" fill-opacity="0.9" stroke="#000" stroke-opacity="0.12" stroke-width="0.4"/>
<circle cx="156.9" cy="342.9" r="3.5" fill="#f08248" fill-opacity="0.9" stroke="#000" stroke-opacity="0.12" stroke-width="0.4"/>
<circle cx="162.5" cy="343.9" r="3.5" fill="#f28c46" fill-opacity="0.9" stroke="#000" stroke-opacity="0.12" stroke-width="0.4"/>
<circle cx="168.1" cy="345.8" r="3" fill="#ee5a3a" fill-opacity="0.9" stroke="#000" stroke-opacity="0.12" stroke-width="0.4"/>
<circle cx="194.4" cy="346.7" r="3" fill="#f28446" fill-opacity="0.9" stroke="#000" stroke-opacity="0.12" stroke-width="0.4"/>
<circle cx="179" cy="354.8" r="2.5" fill="#ee5a3a" fill-opacity="0.9" stroke="#000" stroke-opacity="0.12" stroke-width="0.4"/>
<circle cx="149.4" cy="353.3" r="4" fill="#ee5a3a" fill-opacity="0.9" stroke="#000" stroke-opacity="0.12" stroke-width="0.4"/>
<circle cx="155" cy="351.4" r="2.5" fill="#e0303a" fill-opacity="0.9" stroke="#000" stroke-opacity="0.12" stroke-width="0.4"/>
<circle cx="159.7" cy="353.3" r="2.5" fill="#ee5a3a" fill-opacity="0.9" stroke="#000" stroke-opacity="0.12" stroke-width="0.4"/>
<circle cx="150.3" cy="358" r="3.5" fill="#e04040" fill-opacity="0.9" stroke="#000" stroke-opacity="0.12" stroke-width="0.4"/>
<circle cx="156.9" cy="358" r="3.5" fill="#d6263c" fill-opacity="0.9" stroke="#000" stroke-opacity="0.12" stroke-width="0.4"/>
<circle cx="160.6" cy="358.9" r="2.5" fill="#e0303a" fill-opacity="0.9" stroke="#000" stroke-opacity="0.12" stroke-width="0.4"/>
<circle cx="151.3" cy="362.6" r="2.5" fill="#cf1a3c" fill-opacity="0.9" stroke="#000" stroke-opacity="0.12" stroke-width="0.4"/>
<circle cx="160" cy="358.25" r="2.5" fill="#f28446" fill-opacity="0.9" stroke="#000" stroke-opacity="0.12" stroke-width="0.4"/>
<circle cx="193.75" cy="367.5" r="2.8" fill="#d82a3e" fill-opacity="0.9" stroke="#000" stroke-opacity="0.12" stroke-width="0.4"/>
<circle cx="141.25" cy="374.5" r="2.5" fill="#cf1a3c" fill-opacity="0.9" stroke="#000" stroke-opacity="0.12" stroke-width="0.4"/>
<circle cx="144.5" cy="379" r="3.5" fill="#bb1540" fill-opacity="0.9" stroke="#000" stroke-opacity="0.12" stroke-width="0.4"/>
<circle cx="147" cy="373.25" r="2" fill="#cf1a3c" fill-opacity="0.9" stroke="#000" stroke-opacity="0.12" stroke-width="0.4"/>
<circle cx="150.5" cy="378.25" r="1.8" fill="#cf1a3c" fill-opacity="0.9" stroke="#000" stroke-opacity="0.12" stroke-width="0.4"/>
<circle cx="167.8" cy="385" r="4.5" fill="#c8163c" fill-opacity="0.9" stroke="#000" stroke-opacity="0.12" stroke-width="0.4"/>
<circle cx="166.25" cy="389.4" r="4" fill="#c8163c" fill-opacity="0.9" stroke="#000" stroke-opacity="0.12" stroke-width="0.4"/>
<circle cx="172.5" cy="384.4" r="3" fill="#c8163c" fill-opacity="0.9" stroke="#000" stroke-opacity="0.12" stroke-width="0.4"/>
<circle cx="184.5" cy="388.75" r="3.5" fill="#d8283e" fill-opacity="0.9" stroke="#000" stroke-opacity="0.12" stroke-width="0.4"/>
<circle cx="187.5" cy="395.75" r="3.5" fill="#d02a44" fill-opacity="0.9" stroke="#000" stroke-opacity="0.12" stroke-width="0.4"/>
<circle cx="122.1" cy="341.7" r="2.5" fill="#ee6a48" fill-opacity="0.9" stroke="#000" stroke-opacity="0.12" stroke-width="0.4"/>
<circle cx="103.75" cy="329.9" r="2" fill="#f57845" fill-opacity="0.9" stroke="#000" stroke-opacity="0.12" stroke-width="0.4"/>
<circle cx="101" cy="315.4" r="2.5" fill="#cf1a3c" fill-opacity="0.9" stroke="#000" stroke-opacity="0.12" stroke-width="0.4"/>
<circle cx="125.9" cy="327.3" r="2.5" fill="#bb1540" fill-opacity="0.9" stroke="#000" stroke-opacity="0.12" stroke-width="0.4"/>
<circle cx="150.7" cy="341.7" r="2.5" fill="#cf1a3c" fill-opacity="0.9" stroke="#000" stroke-opacity="0.12" stroke-width="0.4"/>
<circle cx="156.3" cy="342.6" r="3.5" fill="#f28446" fill-opacity="0.9" stroke="#000" stroke-opacity="0.12" stroke-width="0.4"/>
<circle cx="144.1" cy="347.3" r="3" fill="#ee5a3a" fill-opacity="0.9" stroke="#000" stroke-opacity="0.12" stroke-width="0.4"/>
<circle cx="101" cy="342.6" r="3" fill="#e0303a" fill-opacity="0.9" stroke="#000" stroke-opacity="0.12" stroke-width="0.4"/>
<circle cx="103.75" cy="350.2" r="3.5" fill="#cf1a3c" fill-opacity="0.9" stroke="#000" stroke-opacity="0.12" stroke-width="0.4"/>
<circle cx="153.5" cy="350.2" r="2.5" fill="#e0303a" fill-opacity="0.9" stroke="#000" stroke-opacity="0.12" stroke-width="0.4"/>
<circle cx="57.8" cy="328.2" r="2.8" fill="#f06a4a" fill-opacity="0.9" stroke="#000" stroke-opacity="0.12" stroke-width="0.4"/>
<circle cx="58.2" cy="338" r="2.5" fill="#cc2a50" fill-opacity="0.9" stroke="#000" stroke-opacity="0.12" stroke-width="0.4"/>
<circle cx="91" cy="314.1" r="2" fill="#cf1a3c" fill-opacity="0.9" stroke="#000" stroke-opacity="0.12" stroke-width="0.4"/>
<circle cx="99" cy="315.4" r="2.5" fill="#d8283e" fill-opacity="0.9" stroke="#000" stroke-opacity="0.12" stroke-width="0.4"/>
<circle cx="83.2" cy="317.3" r="2.5" fill="#f59a46" fill-opacity="0.9" stroke="#000" stroke-opacity="0.12" stroke-width="0.4"/>
<circle cx="71.9" cy="323" r="3.5" fill="#f57845" fill-opacity="0.9" stroke="#000" stroke-opacity="0.12" stroke-width="0.4"/>
<circle cx="86.9" cy="325.8" r="2.5" fill="#d6263c" fill-opacity="0.9" stroke="#000" stroke-opacity="0.12" stroke-width="0.4"/>
<circle cx="93.75" cy="322.5" r="2.5" fill="#cf1a3c" fill-opacity="0.9" stroke="#000" stroke-opacity="0.12" stroke-width="0.4"/>
<circle cx="97.5" cy="325.3" r="3" fill="#f06a48" fill-opacity="0.9" stroke="#000" stroke-opacity="0.12" stroke-width="0.4"/>
<circle cx="80.4" cy="332.9" r="3.5" fill="#f28446" fill-opacity="0.9" stroke="#000" stroke-opacity="0.12" stroke-width="0.4"/>
<circle cx="74.5" cy="332.9" r="3" fill="#bb1540" fill-opacity="0.9" stroke="#000" stroke-opacity="0.12" stroke-width="0.4"/>
<circle cx="78.4" cy="337.6" r="2" fill="#cf1a3c" fill-opacity="0.9" stroke="#000" stroke-opacity="0.12" stroke-width="0.4"/>
<circle cx="86.2" cy="327.8" r="2.5" fill="#cf1a3c" fill-opacity="0.9" stroke="#000" stroke-opacity="0.12" stroke-width="0.4"/>
<circle cx="103.4" cy="330.1" r="1.8" fill="#f7a050" fill-opacity="0.9" stroke="#000" stroke-opacity="0.12" stroke-width="0.4"/>
<circle cx="65.1" cy="341.4" r="2.5" fill="#cf1a3c" fill-opacity="0.9" stroke="#000" stroke-opacity="0.12" stroke-width="0.4"/>
<circle cx="72.2" cy="340.75" r="1.8" fill="#e04a3c" fill-opacity="0.9" stroke="#000" stroke-opacity="0.12" stroke-width="0.4"/>
<circle cx="66.4" cy="347.3" r="2.5" fill="#cf1a3c" fill-opacity="0.9" stroke="#000" stroke-opacity="0.12" stroke-width="0.4"/>
<circle cx="74.5" cy="348.9" r="4.5" fill="#c8163c" fill-opacity="0.9" stroke="#000" stroke-opacity="0.12" stroke-width="0.4"/>
<circle cx="79.2" cy="348.9" r="3.5" fill="#c8163c" fill-opacity="0.9" stroke="#000" stroke-opacity="0.12" stroke-width="0.4"/>
<circle cx="86.2" cy="346.1" r="2.5" fill="#e0303a" fill-opacity="0.9" stroke="#000" stroke-opacity="0.12" stroke-width="0.4"/>
<circle cx="94" cy="342.6" r="2.5" fill="#e0303a" fill-opacity="0.9" stroke="#000" stroke-opacity="0.12" stroke-width="0.4"/>
<circle cx="99.5" cy="341.8" r="3" fill="#dc4646" fill-opacity="0.9" stroke="#000" stroke-opacity="0.12" stroke-width="0.4"/>
<circle cx="98.7" cy="347.3" r="3" fill="#e0303a" fill-opacity="0.9" stroke="#000" stroke-opacity="0.12" stroke-width="0.4"/>
<circle cx="90.9" cy="350.4" r="2.5" fill="#cf1a3c" fill-opacity="0.9" stroke="#000" stroke-opacity="0.12" stroke-width="0.4"/>
<circle cx="105" cy="350.4" r="3" fill="#e0303a" fill-opacity="0.9" stroke="#000" stroke-opacity="0.12" stroke-width="0.4"/>
<circle cx="72.2" cy="354.3" r="2.5" fill="#f57845" fill-opacity="0.9" stroke="#000" stroke-opacity="0.12" stroke-width="0.4"/>
<circle cx="87.8" cy="355.1" r="2.5" fill="#cf1a3c" fill-opacity="0.9" stroke="#000" stroke-opacity="0.12" stroke-width="0.4"/>
<circle cx="93.25" cy="355.1" r="3" fill="#cf1a3c" fill-opacity="0.9" stroke="#000" stroke-opacity="0.12" stroke-width="0.4"/>
<circle cx="100.3" cy="355.1" r="3.5" fill="#e0303a" fill-opacity="0.9" stroke="#000" stroke-opacity="0.12" stroke-width="0.4"/>
<circle cx="79.2" cy="352.8" r="2.5" fill="#d6263c" fill-opacity="0.9" stroke="#000" stroke-opacity="0.12" stroke-width="0.4"/>
<circle cx="108.9" cy="355.9" r="3" fill="#e0303a" fill-opacity="0.9" stroke="#000" stroke-opacity="0.12" stroke-width="0.4"/>
<circle cx="67.2" cy="347.25" r="2.5" fill="#cf1a3c" fill-opacity="0.9" stroke="#000" stroke-opacity="0.12" stroke-width="0.4"/>
<circle cx="72.8" cy="349.7" r="3.5" fill="#c8163c" fill-opacity="0.9" stroke="#000" stroke-opacity="0.12" stroke-width="0.4"/>
<circle cx="78.5" cy="347.8" r="3.5" fill="#c8163c" fill-opacity="0.9" stroke="#000" stroke-opacity="0.12" stroke-width="0.4"/>
<circle cx="86.9" cy="355.3" r="3" fill="#cf1a3c" fill-opacity="0.9" stroke="#000" stroke-opacity="0.12" stroke-width="0.4"/>
<circle cx="93.5" cy="354.4" r="3.5" fill="#cf1a3c" fill-opacity="0.9" stroke="#000" stroke-opacity="0.12" stroke-width="0.4"/>
<circle cx="96.3" cy="348.75" r="4" fill="#c8163c" fill-opacity="0.9" stroke="#000" stroke-opacity="0.12" stroke-width="0.4"/>
<circle cx="81.3" cy="350.6" r="3" fill="#e0303a" fill-opacity="0.9" stroke="#000" stroke-opacity="0.12" stroke-width="0.4"/>
<circle cx="80.3" cy="363.8" r="1.5" fill="#bb1540" fill-opacity="0.9" stroke="#000" stroke-opacity="0.12" stroke-width="0.4"/>
<circle cx="93.75" cy="343.9" r="3.5" fill="#e0303a" fill-opacity="0.9" stroke="#000" stroke-opacity="0.12" stroke-width="0.4"/>
<circle cx="99.4" cy="347.6" r="4.5" fill="#d8323e" fill-opacity="0.9" stroke="#000" stroke-opacity="0.12" stroke-width="0.4"/>
<circle cx="105" cy="351.4" r="3.5" fill="#e0303a" fill-opacity="0.9" stroke="#000" stroke-opacity="0.12" stroke-width="0.4"/>
<circle cx="91.9" cy="352.3" r="4" fill="#c8163c" fill-opacity="0.9" stroke="#000" stroke-opacity="0.12" stroke-width="0.4"/>
<circle cx="97.5" cy="355.1" r="4.5" fill="#c8163c" fill-opacity="0.9" stroke="#000" stroke-opacity="0.12" stroke-width="0.4"/>
<circle cx="103.1" cy="357" r="3.5" fill="#e0303a" fill-opacity="0.9" stroke="#000" stroke-opacity="0.12" stroke-width="0.4"/>
<circle cx="93.75" cy="358.9" r="3.5" fill="#c8163c" fill-opacity="0.9" stroke="#000" stroke-opacity="0.12" stroke-width="0.4"/>
<circle cx="107.8" cy="359.8" r="2.5" fill="#e0303a" fill-opacity="0.9" stroke="#000" stroke-opacity="0.12" stroke-width="0.4"/>
<circle cx="112.5" cy="358.9" r="2" fill="#e0303a" fill-opacity="0.9" stroke="#000" stroke-opacity="0.12" stroke-width="0.4"/>
<circle cx="110.6" cy="356.1" r="2" fill="#e0303a" fill-opacity="0.9" stroke="#000" stroke-opacity="0.12" stroke-width="0.4"/>
<circle cx="107.3" cy="368.3" r="1.8" fill="#cf1a3c" fill-opacity="0.9" stroke="#000" stroke-opacity="0.12" stroke-width="0.4"/>
<circle cx="110.6" cy="369.2" r="1.8" fill="#cf1a3c" fill-opacity="0.9" stroke="#000" stroke-opacity="0.12" stroke-width="0.4"/>
<circle cx="114.4" cy="371.1" r="2" fill="#cf1a3c" fill-opacity="0.9" stroke="#000" stroke-opacity="0.12" stroke-width="0.4"/>
<circle cx="117.2" cy="369.2" r="2" fill="#cf1a3c" fill-opacity="0.9" stroke="#000" stroke-opacity="0.12" stroke-width="0.4"/>
<circle cx="121.9" cy="361.7" r="2.5" fill="#cf1a3c" fill-opacity="0.9" stroke="#000" stroke-opacity="0.12" stroke-width="0.4"/>
<circle cx="128.5" cy="358.9" r="2.5" fill="#e0303a" fill-opacity="0.9" stroke="#000" stroke-opacity="0.12" stroke-width="0.4"/>
<circle cx="121" cy="342" r="2" fill="#e0303a" fill-opacity="0.9" stroke="#000" stroke-opacity="0.12" stroke-width="0.4"/>
<circle cx="144.4" cy="347.6" r="5" fill="#ef7047" fill-opacity="0.9" stroke="#000" stroke-opacity="0.12" stroke-width="0.4"/>
<circle cx="147.2" cy="344.8" r="3" fill="#f28446" fill-opacity="0.9" stroke="#000" stroke-opacity="0.12" stroke-width="0.4"/>
<circle cx="129.4" cy="373.9" r="2" fill="#cf1a3c" fill-opacity="0.9" stroke="#000" stroke-opacity="0.12" stroke-width="0.4"/>
<circle cx="123.8" cy="371" r="1.5" fill="#cf1a3c" fill-opacity="0.9" stroke="#000" stroke-opacity="0.12" stroke-width="0.4"/>
<circle cx="140.7" cy="373.9" r="2" fill="#cf1a3c" fill-opacity="0.9" stroke="#000" stroke-opacity="0.12" stroke-width="0.4"/>
<circle cx="146.3" cy="373" r="2.5" fill="#cf1a3c" fill-opacity="0.9" stroke="#000" stroke-opacity="0.12" stroke-width="0.4"/>
<circle cx="137.8" cy="376.7" r="2" fill="#cf1a3c" fill-opacity="0.9" stroke="#000" stroke-opacity="0.12" stroke-width="0.4"/>
<circle cx="132.2" cy="380.5" r="1.8" fill="#cf1a3c" fill-opacity="0.9" stroke="#000" stroke-opacity="0.12" stroke-width="0.4"/>
<circle cx="136" cy="381.4" r="1.8" fill="#cf1a3c" fill-opacity="0.9" stroke="#000" stroke-opacity="0.12" stroke-width="0.4"/>
<circle cx="144.4" cy="378.6" r="3.5" fill="#bb1540" fill-opacity="0.9" stroke="#000" stroke-opacity="0.12" stroke-width="0.4"/>
<circle cx="122.8" cy="365.5" r="2.3" fill="#e8642c" fill-opacity="1" stroke="#000" stroke-opacity="0.7" stroke-width="0.4"/>
<text x="81" y="364.6" font-size="6.6" fill="#000" stroke="#000" stroke-width="0.05">Somalia</text>
<text x="107.8" y="356.8" font-size="6.6" fill="#000" stroke="#000" stroke-width="0.05">India</text>
<text x="123.8" y="367.3" font-size="7.3" fill="#000" stroke="#000" stroke-width="0.05">GLOBAL</text>
<text x="123.4" y="373.7" font-size="6.6" fill="#000" stroke="#000" stroke-width="0.05">Mali</text>
<text x="147.2" y="373" font-size="6.6" fill="#000" stroke="#000" stroke-width="0.05">Sudan</text>
<text x="151.3" y="379" font-size="6.6" fill="#000" stroke="#000" stroke-width="0.05">Niger</text>
<text x="195" y="369" font-size="6.6" fill="#000" stroke="#000" stroke-width="0.05">Iraq</text>
<text x="188.75" y="397" font-size="6.6" fill="#000" stroke="#000" stroke-width="0.05">Saudi Arabia</text>
<text x="72.2" y="323.6" font-size="6.6" fill="#000" stroke="#000" stroke-width="0.05">New Zealand</text>
<text x="87.2" y="327.3" font-size="6.6" fill="#000" stroke="#000" stroke-width="0.05">Brazil</text>
<text x="126.8" y="328" font-size="6.6" fill="#000" stroke="#000" stroke-width="0.05">Namibia</text>
<text x="143.75" y="337.1" font-size="6.6" fill="#000" stroke="#000" stroke-width="0.05">United States</text>
<text x="162.9" y="343.6" font-size="6.6" fill="#000" stroke="#000" stroke-width="0.05">Greece</text>
<text x="169.7" y="304.3" font-size="6.6" fill="#000" stroke="#000" stroke-width="0.05">Germany</text>
<text x="163" y="315.6" font-size="6.6" fill="#000" stroke="#000" stroke-width="0.05">United Kingdom</text>
<text x="149.1" y="284.1" font-size="6.6" fill="#000" stroke="#000" stroke-width="0.05">China</text>
<text x="232.9" y="250.8" font-size="6.6" fill="#000" stroke="#000" stroke-width="0.05">Russia</text>
<text x="203.8" y="263.4" font-size="6.6" fill="#000" stroke="#000" stroke-width="0.05">Norway</text>
<text x="199.5" y="274.8" font-size="6.6" fill="#000" stroke="#000" stroke-width="0.05">Canada</text>

<rect x="34.4" y="232.6" width="231.9" height="177.29999999999998" fill="none" stroke="#444" stroke-width="0.9"/>
<line x1="34.40" y1="409.9" x2="34.40" y2="412.2" stroke="#444" stroke-width="0.8"/>
<text x="34.40" y="420.5" font-size="8.3" text-anchor="middle" fill="#000" >1</text>
<line x1="73.05" y1="409.9" x2="73.05" y2="412.2" stroke="#444" stroke-width="0.8"/>
<text x="73.05" y="420.5" font-size="8.3" text-anchor="middle" fill="#000" >2</text>
<line x1="111.70" y1="409.9" x2="111.70" y2="412.2" stroke="#444" stroke-width="0.8"/>
<text x="111.70" y="420.5" font-size="8.3" text-anchor="middle" fill="#000" >3</text>
<line x1="150.35" y1="409.9" x2="150.35" y2="412.2" stroke="#444" stroke-width="0.8"/>
<text x="150.35" y="420.5" font-size="8.3" text-anchor="middle" fill="#000" >4</text>
<line x1="189.00" y1="409.9" x2="189.00" y2="412.2" stroke="#444" stroke-width="0.8"/>
<text x="189.00" y="420.5" font-size="8.3" text-anchor="middle" fill="#000" >5</text>
<line x1="227.65" y1="409.9" x2="227.65" y2="412.2" stroke="#444" stroke-width="0.8"/>
<text x="227.65" y="420.5" font-size="8.3" text-anchor="middle" fill="#000" >6</text>
<line x1="266.30" y1="409.9" x2="266.30" y2="412.2" stroke="#444" stroke-width="0.8"/>
<text x="266.30" y="420.5" font-size="8.3" text-anchor="middle" fill="#000" >7</text>
<line x1="32.1" y1="248.59" x2="34.4" y2="248.59" stroke="#444" stroke-width="0.8"/>
<text x="30.099999999999998" y="251.59" font-size="8.3" text-anchor="end" fill="#000" >40</text>
<line x1="32.1" y1="280.92" x2="34.4" y2="280.92" stroke="#444" stroke-width="0.8"/>
<text x="30.099999999999998" y="283.92" font-size="8.3" text-anchor="end" fill="#000" >20</text>
<line x1="32.1" y1="313.25" x2="34.4" y2="313.25" stroke="#444" stroke-width="0.8"/>
<text x="30.099999999999998" y="316.25" font-size="8.3" text-anchor="end" fill="#000" >0</text>
<line x1="32.1" y1="345.58" x2="34.4" y2="345.58" stroke="#444" stroke-width="0.8"/>
<text x="30.099999999999998" y="348.58" font-size="8.3" text-anchor="end" fill="#000" >−20</text>
<line x1="32.1" y1="377.91" x2="34.4" y2="377.91" stroke="#444" stroke-width="0.8"/>
<text x="30.099999999999998" y="380.91" font-size="8.3" text-anchor="end" fill="#000" >−40</text>
<line x1="32.1" y1="410.24" x2="34.4" y2="410.24" stroke="#444" stroke-width="0.8"/>
<text x="30.099999999999998" y="413.24" font-size="8.3" text-anchor="end" fill="#000" >−60</text>
<text x="150.6" y="228.79999999999998" font-size="8.2" text-anchor="middle" textLength="62.5" lengthAdjust="spacingAndGlyphs" fill="#000" >NorESM2-DIAM</text>
<text x="150.8" y="429.7" font-size="8.9" text-anchor="middle" textLength="77.8" lengthAdjust="spacingAndGlyphs" fill="#000" >Δtemperature (°C)</text>
<text transform="translate(11.5,321.6) rotate(-90)" font-size="8.6" text-anchor="middle" textLength="71" lengthAdjust="spacingAndGlyphs">ΔGDP/capita (%)</text>
<line x1="34.25" y1="560.0" x2="266.2" y2="560.0" stroke="#bbb" stroke-width="0.8" stroke-dasharray="1.9,1.3"/>
<circle cx="69.7" cy="470.9" r="2.5" fill="#be1432" fill-opacity="0.9" stroke="#000" stroke-opacity="0.12" stroke-width="0.4"/>
<circle cx="79.6" cy="479.3" r="1.8" fill="#a81e4a" fill-opacity="0.9" stroke="#000" stroke-opacity="0.12" stroke-width="0.4"/>
<circle cx="87.5" cy="481.6" r="1.5" fill="#e0303a" fill-opacity="0.9" stroke="#000" stroke-opacity="0.12" stroke-width="0.4"/>
<circle cx="83.8" cy="484.4" r="2.5" fill="#ee5a3a" fill-opacity="0.9" stroke="#000" stroke-opacity="0.12" stroke-width="0.4"/>
<circle cx="68.8" cy="489.1" r="3.5" fill="#ef6a4e" fill-opacity="0.9" stroke="#000" stroke-opacity="0.12" stroke-width="0.4"/>
<circle cx="73.5" cy="491" r="1.5" fill="#cf1a3c" fill-opacity="0.9" stroke="#000" stroke-opacity="0.12" stroke-width="0.4"/>
<circle cx="85.6" cy="490" r="2" fill="#cf1a3c" fill-opacity="0.9" stroke="#000" stroke-opacity="0.12" stroke-width="0.4"/>
<circle cx="86.6" cy="495.6" r="2" fill="#cf1a3c" fill-opacity="0.9" stroke="#000" stroke-opacity="0.12" stroke-width="0.4"/>
<circle cx="72.5" cy="495.6" r="3" fill="#ef6a4e" fill-opacity="0.9" stroke="#000" stroke-opacity="0.12" stroke-width="0.4"/>
<circle cx="93.2" cy="500.3" r="2" fill="#cf1a3c" fill-opacity="0.9" stroke="#000" stroke-opacity="0.12" stroke-width="0.4"/>
<circle cx="101.6" cy="500.3" r="2" fill="#cf1a3c" fill-opacity="0.9" stroke="#000" stroke-opacity="0.12" stroke-width="0.4"/>
<circle cx="74.4" cy="502.9" r="3.5" fill="#e44040" fill-opacity="0.9" stroke="#000" stroke-opacity="0.12" stroke-width="0.4"/>
<circle cx="77.8" cy="511.9" r="3" fill="#e04a50" fill-opacity="0.9" stroke="#000" stroke-opacity="0.12" stroke-width="0.4"/>
<circle cx="86" cy="507.75" r="2.5" fill="#f57845" fill-opacity="0.9" stroke="#000" stroke-opacity="0.12" stroke-width="0.4"/>
<circle cx="90.3" cy="501.6" r="2" fill="#cf1a3c" fill-opacity="0.9" stroke="#000" stroke-opacity="0.12" stroke-width="0.4"/>
<circle cx="93.5" cy="500.6" r="2" fill="#cf1a3c" fill-opacity="0.9" stroke="#000" stroke-opacity="0.12" stroke-width="0.4"/>
<circle cx="90.9" cy="504.75" r="2" fill="#cf1a3c" fill-opacity="0.9" stroke="#000" stroke-opacity="0.12" stroke-width="0.4"/>
<circle cx="100.6" cy="501.6" r="1.8" fill="#cf1a3c" fill-opacity="0.9" stroke="#000" stroke-opacity="0.12" stroke-width="0.4"/>
<circle cx="99.7" cy="510" r="1.8" fill="#cf1a3c" fill-opacity="0.9" stroke="#000" stroke-opacity="0.12" stroke-width="0.4"/>
<circle cx="103.5" cy="511.9" r="1.5" fill="#e0303a" fill-opacity="0.9" stroke="#000" stroke-opacity="0.12" stroke-width="0.4"/>
<circle cx="99.2" cy="516.6" r="2" fill="#cf1a3c" fill-opacity="0.9" stroke="#000" stroke-opacity="0.12" stroke-width="0.4"/>
<circle cx="106.3" cy="519.4" r="2.5" fill="#cf1a3c" fill-opacity="0.9" stroke="#000" stroke-opacity="0.12" stroke-width="0.4"/>
<circle cx="102.5" cy="521.3" r="1.8" fill="#e0303a" fill-opacity="0.9" stroke="#000" stroke-opacity="0.12" stroke-width="0.4"/>
<circle cx="95" cy="525.4" r="2.5" fill="#f28446" fill-opacity="0.9" stroke="#000" stroke-opacity="0.12" stroke-width="0.4"/>
<circle cx="90.9" cy="527.3" r="2" fill="#f28c46" fill-opacity="0.9" stroke="#000" stroke-opacity="0.12" stroke-width="0.4"/>
<circle cx="84.7" cy="530.3" r="3" fill="#ef6a4e" fill-opacity="0.9" stroke="#000" stroke-opacity="0.12" stroke-width="0.4"/>
<circle cx="89.8" cy="531.6" r="2.5" fill="#cf1a3c" fill-opacity="0.9" stroke="#000" stroke-opacity="0.12" stroke-width="0.4"/>
<circle cx="78.1" cy="532.5" r="2.5" fill="#f59a46" fill-opacity="0.9" stroke="#000" stroke-opacity="0.12" stroke-width="0.4"/>
<circle cx="73.5" cy="532.2" r="2" fill="#f28446" fill-opacity="0.9" stroke="#000" stroke-opacity="0.12" stroke-width="0.4"/>
<circle cx="74.1" cy="534.6" r="1.8" fill="#f9b060" fill-opacity="0.9" stroke="#000" stroke-opacity="0.12" stroke-width="0.4"/>
<circle cx="77.8" cy="532.75" r="3" fill="#f59a46" fill-opacity="0.9" stroke="#000" stroke-opacity="0.12" stroke-width="0.4"/>
<circle cx="84.4" cy="530.9" r="3" fill="#ef6a4e" fill-opacity="0.9" stroke="#000" stroke-opacity="0.12" stroke-width="0.4"/>
<circle cx="90" cy="531.25" r="2.5" fill="#cf1a3c" fill-opacity="0.9" stroke="#000" stroke-opacity="0.12" stroke-width="0.4"/>
<circle cx="91" cy="527.5" r="2.5" fill="#f9b060" fill-opacity="0.9" stroke="#000" stroke-opacity="0.12" stroke-width="0.4"/>
<circle cx="95.3" cy="526" r="3" fill="#f59a46" fill-opacity="0.9" stroke="#000" stroke-opacity="0.12" stroke-width="0.4"/>
<circle cx="94.7" cy="538.4" r="3" fill="#f07a3a" fill-opacity="0.9" stroke="#000" stroke-opacity="0.12" stroke-width="0.4"/>
<circle cx="96" cy="537.2" r="3" fill="#f57845" fill-opacity="0.9" stroke="#000" stroke-opacity="0.12" stroke-width="0.4"/>
<circle cx="104.4" cy="534.4" r="2.5" fill="#f59a46" fill-opacity="0.9" stroke="#000" stroke-opacity="0.12" stroke-width="0.4"/>
<circle cx="107.2" cy="527.8" r="3" fill="#e0303a" fill-opacity="0.9" stroke="#000" stroke-opacity="0.12" stroke-width="0.4"/>
<circle cx="99.7" cy="510.6" r="2" fill="#cf1a3c" fill-opacity="0.9" stroke="#000" stroke-opacity="0.12" stroke-width="0.4"/>
<circle cx="98.75" cy="516.6" r="2" fill="#cf1a3c" fill-opacity="0.9" stroke="#000" stroke-opacity="0.12" stroke-width="0.4"/>
<circle cx="102.5" cy="521" r="2.5" fill="#e0303a" fill-opacity="0.9" stroke="#000" stroke-opacity="0.12" stroke-width="0.4"/>
<circle cx="106.3" cy="519" r="2.5" fill="#cf1a3c" fill-opacity="0.9" stroke="#000" stroke-opacity="0.12" stroke-width="0.4"/>
<circle cx="105.3" cy="523.8" r="3" fill="#cf1a3c" fill-opacity="0.9" stroke="#000" stroke-opacity="0.12" stroke-width="0.4"/>
<circle cx="113.8" cy="523.8" r="2" fill="#cf1a3c" fill-opacity="0.9" stroke="#000" stroke-opacity="0.12" stroke-width="0.4"/>
<circle cx="107.2" cy="529.4" r="3.5" fill="#cf1a3c" fill-opacity="0.9" stroke="#000" stroke-opacity="0.12" stroke-width="0.4"/>
<circle cx="103.4" cy="534.1" r="3" fill="#ef6a4e" fill-opacity="0.9" stroke="#000" stroke-opacity="0.12" stroke-width="0.4"/>
<circle cx="96" cy="526.6" r="2.5" fill="#f59a46" fill-opacity="0.9" stroke="#000" stroke-opacity="0.12" stroke-width="0.4"/>
<circle cx="96" cy="536.9" r="3" fill="#f59a46" fill-opacity="0.9" stroke="#000" stroke-opacity="0.12" stroke-width="0.4"/>
<circle cx="111" cy="535" r="3" fill="#cf1a3c" fill-opacity="0.9" stroke="#000" stroke-opacity="0.12" stroke-width="0.4"/>
<circle cx="126" cy="535" r="2.5" fill="#ee5a3a" fill-opacity="0.9" stroke="#000" stroke-opacity="0.12" stroke-width="0.4"/>
<circle cx="116" cy="532" r="3" fill="#cf1a3c" fill-opacity="0.9" stroke="#000" stroke-opacity="0.12" stroke-width="0.4"/>
<circle cx="140" cy="538.4" r="2.5" fill="#d82a4a" fill-opacity="0.9" stroke="#000" stroke-opacity="0.12" stroke-width="0.4"/>
<circle cx="109" cy="537.8" r="3" fill="#cf1a3c" fill-opacity="0.9" stroke="#000" stroke-opacity="0.12" stroke-width="0.4"/>
<circle cx="114.7" cy="539.7" r="3" fill="#cf1a3c" fill-opacity="0.9" stroke="#000" stroke-opacity="0.12" stroke-width="0.4"/>
<circle cx="102.5" cy="544.4" r="2.5" fill="#f59a46" fill-opacity="0.9" stroke="#000" stroke-opacity="0.12" stroke-width="0.4"/>
<circle cx="108.1" cy="544.4" r="2.5" fill="#f59a46" fill-opacity="0.9" stroke="#000" stroke-opacity="0.12" stroke-width="0.4"/>
<circle cx="117.5" cy="544.4" r="3" fill="#cf1a3c" fill-opacity="0.9" stroke="#000" stroke-opacity="0.12" stroke-width="0.4"/>
<circle cx="123.1" cy="543.5" r="2.5" fill="#cf1a3c" fill-opacity="0.9" stroke="#000" stroke-opacity="0.12" stroke-width="0.4"/>
<circle cx="128.8" cy="545.3" r="2.5" fill="#e0303a" fill-opacity="0.9" stroke="#000" stroke-opacity="0.12" stroke-width="0.4"/>
<circle cx="121.3" cy="548.2" r="3" fill="#cf1a3c" fill-opacity="0.9" stroke="#000" stroke-opacity="0.12" stroke-width="0.4"/>
<circle cx="131.6" cy="549" r="2.5" fill="#e0303a" fill-opacity="0.9" stroke="#000" stroke-opacity="0.12" stroke-width="0.4"/>
<circle cx="103.1" cy="521.9" r="3" fill="#cf1a3c" fill-opacity="0.9" stroke="#000" stroke-opacity="0.12" stroke-width="0.4"/>
<circle cx="114.4" cy="524.7" r="2.5" fill="#cf1a3c" fill-opacity="0.9" stroke="#000" stroke-opacity="0.12" stroke-width="0.4"/>
<circle cx="106" cy="544.4" r="3" fill="#ef6a4e" fill-opacity="0.9" stroke="#000" stroke-opacity="0.12" stroke-width="0.4"/>
<circle cx="110.7" cy="544.4" r="3" fill="#f59a46" fill-opacity="0.9" stroke="#000" stroke-opacity="0.12" stroke-width="0.4"/>
<circle cx="111.6" cy="551" r="4" fill="#f28c46" fill-opacity="0.9" stroke="#000" stroke-opacity="0.12" stroke-width="0.4"/>
<circle cx="110" cy="549.4" r="3.5" fill="#f07a3a" fill-opacity="0.9" stroke="#000" stroke-opacity="0.12" stroke-width="0.4"/>
<circle cx="112.8" cy="544.7" r="3" fill="#f59a46" fill-opacity="0.9" stroke="#000" stroke-opacity="0.12" stroke-width="0.4"/>
<circle cx="119.4" cy="543.75" r="3.5" fill="#cf1a3c" fill-opacity="0.9" stroke="#000" stroke-opacity="0.12" stroke-width="0.4"/>
<circle cx="125" cy="545.6" r="3.5" fill="#cf1a3c" fill-opacity="0.9" stroke="#000" stroke-opacity="0.12" stroke-width="0.4"/>
<circle cx="126.9" cy="542.8" r="3" fill="#f57845" fill-opacity="0.9" stroke="#000" stroke-opacity="0.12" stroke-width="0.4"/>
<circle cx="130.6" cy="548.4" r="3.5" fill="#cf1a3c" fill-opacity="0.9" stroke="#000" stroke-opacity="0.12" stroke-width="0.4"/>
<circle cx="125" cy="554" r="3.5" fill="#cf1a3c" fill-opacity="0.9" stroke="#000" stroke-opacity="0.12" stroke-width="0.4"/>
<circle cx="129.7" cy="555" r="3.5" fill="#cf1a3c" fill-opacity="0.9" stroke="#000" stroke-opacity="0.12" stroke-width="0.4"/>
<circle cx="132.5" cy="559.7" r="3" fill="#cf1a3c" fill-opacity="0.9" stroke="#000" stroke-opacity="0.12" stroke-width="0.4"/>
<circle cx="135.3" cy="560.6" r="3" fill="#e0303a" fill-opacity="0.9" stroke="#000" stroke-opacity="0.12" stroke-width="0.4"/>
<circle cx="137.2" cy="566.3" r="2.5" fill="#cf1a3c" fill-opacity="0.9" stroke="#000" stroke-opacity="0.12" stroke-width="0.4"/>
<circle cx="134.4" cy="568.1" r="2.5" fill="#cf1a3c" fill-opacity="0.9" stroke="#000" stroke-opacity="0.12" stroke-width="0.4"/>
<circle cx="129.7" cy="562.5" r="2.5" fill="#f59a46" fill-opacity="0.9" stroke="#000" stroke-opacity="0.12" stroke-width="0.4"/>
<circle cx="113.8" cy="569.1" r="4.5" fill="#fabd5e" fill-opacity="0.9" stroke="#000" stroke-opacity="0.12" stroke-width="0.4"/>
<circle cx="110" cy="568.1" r="2" fill="#fbc870" fill-opacity="0.9" stroke="#000" stroke-opacity="0.12" stroke-width="0.4"/>
<circle cx="121.3" cy="566.3" r="3" fill="#f59a46" fill-opacity="0.9" stroke="#000" stroke-opacity="0.12" stroke-width="0.4"/>
<circle cx="133.5" cy="571.9" r="2" fill="#f59a46" fill-opacity="0.9" stroke="#000" stroke-opacity="0.12" stroke-width="0.4"/>
<circle cx="149.4" cy="569.1" r="3" fill="#fbc46e" fill-opacity="0.9" stroke="#000" stroke-opacity="0.12" stroke-width="0.4"/>
<circle cx="144.7" cy="574.7" r="3.8" fill="#f05a3a" fill-opacity="0.9" stroke="#000" stroke-opacity="0.12" stroke-width="0.4"/>
<circle cx="151.3" cy="575.6" r="3.5" fill="#ef7047" fill-opacity="0.9" stroke="#000" stroke-opacity="0.12" stroke-width="0.4"/>
<circle cx="146.6" cy="580.3" r="3" fill="#f59a46" fill-opacity="0.9" stroke="#000" stroke-opacity="0.12" stroke-width="0.4"/>
<circle cx="160.6" cy="503.1" r="2" fill="#fbdb8e" fill-opacity="0.9" stroke="#000" stroke-opacity="0.12" stroke-width="0.4"/>
<circle cx="140.7" cy="537.8" r="2.5" fill="#d22846" fill-opacity="0.9" stroke="#000" stroke-opacity="0.12" stroke-width="0.4"/>
<circle cx="199.75" cy="493" r="3" fill="#fbd68a" fill-opacity="0.9" stroke="#000" stroke-opacity="0.12" stroke-width="0.4"/>
<circle cx="236" cy="493.75" r="3.5" fill="#fbdc90" fill-opacity="0.9" stroke="#000" stroke-opacity="0.12" stroke-width="0.4"/>
<circle cx="204" cy="516.25" r="4" fill="#fbd68a" fill-opacity="0.9" stroke="#000" stroke-opacity="0.12" stroke-width="0.4"/>
<circle cx="227.25" cy="534.5" r="2.5" fill="#f9b864" fill-opacity="0.9" stroke="#000" stroke-opacity="0.12" stroke-width="0.4"/>
<circle cx="205.3" cy="546.6" r="3.5" fill="#fbc06e" fill-opacity="0.9" stroke="#000" stroke-opacity="0.12" stroke-width="0.4"/>
<circle cx="209" cy="552.2" r="2" fill="#fbc06e" fill-opacity="0.9" stroke="#000" stroke-opacity="0.12" stroke-width="0.4"/>
<circle cx="200.6" cy="559.7" r="3" fill="#fbc06e" fill-opacity="0.9" stroke="#000" stroke-opacity="0.12" stroke-width="0.4"/>
<circle cx="183.8" cy="561.6" r="2.5" fill="#fbc06e" fill-opacity="0.9" stroke="#000" stroke-opacity="0.12" stroke-width="0.4"/>
<circle cx="159.4" cy="560.6" r="2.5" fill="#f59a46" fill-opacity="0.9" stroke="#000" stroke-opacity="0.12" stroke-width="0.4"/>
<circle cx="155.6" cy="567.2" r="3.5" fill="#f9b460" fill-opacity="0.9" stroke="#000" stroke-opacity="0.12" stroke-width="0.4"/>
<circle cx="151.9" cy="570" r="3" fill="#f59a46" fill-opacity="0.9" stroke="#000" stroke-opacity="0.12" stroke-width="0.4"/>
<circle cx="166" cy="570" r="3.5" fill="#f9b460" fill-opacity="0.9" stroke="#000" stroke-opacity="0.12" stroke-width="0.4"/>
<circle cx="161.3" cy="572.8" r="3.5" fill="#f59a46" fill-opacity="0.9" stroke="#000" stroke-opacity="0.12" stroke-width="0.4"/>
<circle cx="155.6" cy="576.6" r="3.5" fill="#f59a46" fill-opacity="0.9" stroke="#000" stroke-opacity="0.12" stroke-width="0.4"/>
<circle cx="174.4" cy="574.7" r="4.5" fill="#f5a04c" fill-opacity="0.9" stroke="#000" stroke-opacity="0.12" stroke-width="0.4"/>
<circle cx="196" cy="571" r="3.5" fill="#f59a46" fill-opacity="0.9" stroke="#000" stroke-opacity="0.12" stroke-width="0.4"/>
<circle cx="176" cy="580.3" r="4" fill="#f9b460" fill-opacity="0.9" stroke="#000" stroke-opacity="0.12" stroke-width="0.4"/>
<circle cx="185.6" cy="581.3" r="3.5" fill="#f59a46" fill-opacity="0.9" stroke="#000" stroke-opacity="0.12" stroke-width="0.4"/>
<circle cx="151" cy="580.3" r="3" fill="#ef6a4e" fill-opacity="0.9" stroke="#000" stroke-opacity="0.12" stroke-width="0.4"/>
<circle cx="145.3" cy="574.8" r="3.5" fill="#ee6a3c" fill-opacity="0.9" stroke="#000" stroke-opacity="0.12" stroke-width="0.4"/>
<circle cx="148.6" cy="582.7" r="3.5" fill="#f57845" fill-opacity="0.9" stroke="#000" stroke-opacity="0.12" stroke-width="0.4"/>
<circle cx="176" cy="589.7" r="3.5" fill="#f5a04c" fill-opacity="0.9" stroke="#000" stroke-opacity="0.12" stroke-width="0.4"/>
<circle cx="181.4" cy="593.6" r="3.5" fill="#f57845" fill-opacity="0.9" stroke="#000" stroke-opacity="0.12" stroke-width="0.4"/>
<circle cx="185.8" cy="582" r="3.5" fill="#f9b460" fill-opacity="0.9" stroke="#000" stroke-opacity="0.12" stroke-width="0.4"/>
<circle cx="187.3" cy="585.75" r="3" fill="#f59a46" fill-opacity="0.9" stroke="#000" stroke-opacity="0.12" stroke-width="0.4"/>
<circle cx="195.6" cy="600.6" r="3" fill="#f5a04c" fill-opacity="0.9" stroke="#000" stroke-opacity="0.12" stroke-width="0.4"/>
<circle cx="139.2" cy="595.8" r="2" fill="#e04640" fill-opacity="0.9" stroke="#000" stroke-opacity="0.12" stroke-width="0.4"/>
<circle cx="216.8" cy="581.6" r="1.2" fill="#f59a46" fill-opacity="0.9" stroke="#000" stroke-opacity="0.12" stroke-width="0.4"/>
<circle cx="118.4" cy="545.3" r="4" fill="#cc1840" fill-opacity="0.9" stroke="#000" stroke-opacity="0.12" stroke-width="0.4"/>
<circle cx="123.9" cy="546.9" r="4" fill="#cc1840" fill-opacity="0.9" stroke="#000" stroke-opacity="0.12" stroke-width="0.4"/>
<circle cx="129.4" cy="548.4" r="4" fill="#c8163c" fill-opacity="0.9" stroke="#000" stroke-opacity="0.12" stroke-width="0.4"/>
<circle cx="126.25" cy="552.3" r="4" fill="#cc1840" fill-opacity="0.9" stroke="#000" stroke-opacity="0.12" stroke-width="0.4"/>
<circle cx="132.5" cy="553.9" r="3.5" fill="#cc1840" fill-opacity="0.9" stroke="#000" stroke-opacity="0.12" stroke-width="0.4"/>
<circle cx="122.3" cy="556.25" r="3" fill="#cc1840" fill-opacity="0.9" stroke="#000" stroke-opacity="0.12" stroke-width="0.4"/>
<circle cx="130.9" cy="558.6" r="3" fill="#cc1840" fill-opacity="0.9" stroke="#000" stroke-opacity="0.12" stroke-width="0.4"/>
<circle cx="135.6" cy="557.8" r="3" fill="#d01a3c" fill-opacity="0.9" stroke="#000" stroke-opacity="0.12" stroke-width="0.4"/>
<circle cx="126.25" cy="560.2" r="3" fill="#cc1840" fill-opacity="0.9" stroke="#000" stroke-opacity="0.12" stroke-width="0.4"/>
<circle cx="137.2" cy="562.5" r="3" fill="#cc1840" fill-opacity="0.9" stroke="#000" stroke-opacity="0.12" stroke-width="0.4"/>
<circle cx="112.2" cy="550" r="4.5" fill="#f57838" fill-opacity="0.9" stroke="#000" stroke-opacity="0.12" stroke-width="0.4"/>
<circle cx="120" cy="562.5" r="3.5" fill="#f9a050" fill-opacity="0.9" stroke="#000" stroke-opacity="0.12" stroke-width="0.4"/>
<circle cx="128" cy="569" r="3" fill="#f59a46" fill-opacity="0.9" stroke="#000" stroke-opacity="0.12" stroke-width="0.4"/>
<circle cx="132.8" cy="563.4" r="3" fill="#cc1840" fill-opacity="0.9" stroke="#000" stroke-opacity="0.12" stroke-width="0.4"/>
<circle cx="136.6" cy="569" r="3" fill="#cc1840" fill-opacity="0.9" stroke="#000" stroke-opacity="0.12" stroke-width="0.4"/>
<circle cx="119.4" cy="553.1" r="3" fill="#e8642c" fill-opacity="1" stroke="#000" stroke-opacity="0.7" stroke-width="0.4"/>
<text x="70.3" y="470.8" font-size="6.6" fill="#000" stroke="#000" stroke-width="0.05">Namibia</text>
<text x="80" y="479.8" font-size="6.6" fill="#000" stroke="#000" stroke-width="0.05">Mali</text>
<text x="87.5" y="496.6" font-size="6.6" fill="#000" stroke="#000" stroke-width="0.05">Niger</text>
<text x="101.6" y="501.5" font-size="6.6" fill="#000" stroke="#000" stroke-width="0.05">Sudan</text>
<text x="107.2" y="520.6" font-size="6.6" fill="#000" stroke="#000" stroke-width="0.05">Iraq</text>
<text x="108.1" y="528.5" font-size="6.6" fill="#000" stroke="#000" stroke-width="0.05">Brazil</text>
<text x="105.3" y="535.6" font-size="6.6" fill="#000" stroke="#000" stroke-width="0.05">Greece</text>
<text x="96.9" y="541.3" font-size="6.6" fill="#000" stroke="#000" stroke-width="0.05">New Zealand</text>
<text x="134.4" y="549.3" font-size="6.6" fill="#000" stroke="#000" stroke-width="0.05">China</text>
<text x="126" y="555.6" font-size="6.6" fill="#000" stroke="#000" stroke-width="0.05">Somalia</text>
<text x="125" y="559.8" font-size="6.6" fill="#000" stroke="#000" stroke-width="0.05">Saudi Arabia</text>
<text x="135.3" y="566" font-size="6.6" fill="#000" stroke="#000" stroke-width="0.05">India</text>
<text x="115.6" y="569.7" font-size="6.6" fill="#000" stroke="#000" stroke-width="0.05">Canada</text>
<text x="92.5" y="559.8" font-size="7.3" fill="#000" stroke="#000" stroke-width="0.05">GLOBAL</text>
<text x="69.75" y="552" font-size="6.6" fill="#000" stroke="#000" stroke-width="0.05">United States</text>
<text x="200.5" y="493.8" font-size="6.6" fill="#000" stroke="#000" stroke-width="0.05">Russia</text>
<text x="204.75" y="516.8" font-size="6.6" fill="#000" stroke="#000" stroke-width="0.05">Norway</text>
<text x="175.3" y="576.3" font-size="6.6" fill="#000" stroke="#000" stroke-width="0.05">Germany</text>
<text x="188.5" y="583.4" font-size="6.6" fill="#000" stroke="#000" stroke-width="0.05">United Kingdom</text>

<rect x="34.25" y="448.75" width="231.95" height="177.5" fill="none" stroke="#444" stroke-width="0.9"/>
<line x1="34.25" y1="626.25" x2="34.25" y2="628.55" stroke="#444" stroke-width="0.8"/>
<text x="34.25" y="637.25" font-size="8.3" text-anchor="middle" fill="#000" >−0.6</text>
<line x1="67.39" y1="626.25" x2="67.39" y2="628.55" stroke="#444" stroke-width="0.8"/>
<text x="67.39" y="637.25" font-size="8.3" text-anchor="middle" fill="#000" >−0.4</text>
<line x1="100.52" y1="626.25" x2="100.52" y2="628.55" stroke="#444" stroke-width="0.8"/>
<text x="100.52" y="637.25" font-size="8.3" text-anchor="middle" fill="#000" >−0.2</text>
<line x1="133.66" y1="626.25" x2="133.66" y2="628.55" stroke="#444" stroke-width="0.8"/>
<text x="133.66" y="637.25" font-size="8.3" text-anchor="middle" fill="#000" >0.0</text>
<line x1="166.79" y1="626.25" x2="166.79" y2="628.55" stroke="#444" stroke-width="0.8"/>
<text x="166.79" y="637.25" font-size="8.3" text-anchor="middle" fill="#000" >0.2</text>
<line x1="199.93" y1="626.25" x2="199.93" y2="628.55" stroke="#444" stroke-width="0.8"/>
<text x="199.93" y="637.25" font-size="8.3" text-anchor="middle" fill="#000" >0.4</text>
<line x1="233.06" y1="626.25" x2="233.06" y2="628.55" stroke="#444" stroke-width="0.8"/>
<text x="233.06" y="637.25" font-size="8.3" text-anchor="middle" fill="#000" >0.6</text>
<line x1="266.20" y1="626.25" x2="266.20" y2="628.55" stroke="#444" stroke-width="0.8"/>
<text x="266.20" y="637.25" font-size="8.3" text-anchor="middle" fill="#000" >0.8</text>
<line x1="31.95" y1="448.75" x2="34.25" y2="448.75" stroke="#444" stroke-width="0.8"/>
<text x="29.95" y="451.75" font-size="8.3" text-anchor="end" fill="#000" >5</text>
<line x1="31.95" y1="470.94" x2="34.25" y2="470.94" stroke="#444" stroke-width="0.8"/>
<text x="29.95" y="473.94" font-size="8.3" text-anchor="end" fill="#000" >4</text>
<line x1="31.95" y1="493.12" x2="34.25" y2="493.12" stroke="#444" stroke-width="0.8"/>
<text x="29.95" y="496.12" font-size="8.3" text-anchor="end" fill="#000" >3</text>
<line x1="31.95" y1="515.31" x2="34.25" y2="515.31" stroke="#444" stroke-width="0.8"/>
<text x="29.95" y="518.31" font-size="8.3" text-anchor="end" fill="#000" >2</text>
<line x1="31.95" y1="537.50" x2="34.25" y2="537.50" stroke="#444" stroke-width="0.8"/>
<text x="29.95" y="540.50" font-size="8.3" text-anchor="end" fill="#000" >1</text>
<line x1="31.95" y1="559.69" x2="34.25" y2="559.69" stroke="#444" stroke-width="0.8"/>
<text x="29.95" y="562.69" font-size="8.3" text-anchor="end" fill="#000" >0</text>
<line x1="31.95" y1="581.88" x2="34.25" y2="581.88" stroke="#444" stroke-width="0.8"/>
<text x="29.95" y="584.88" font-size="8.3" text-anchor="end" fill="#000" >−1</text>
<line x1="31.95" y1="604.06" x2="34.25" y2="604.06" stroke="#444" stroke-width="0.8"/>
<text x="29.95" y="607.06" font-size="8.3" text-anchor="end" fill="#000" >−2</text>
<line x1="31.95" y1="626.25" x2="34.25" y2="626.25" stroke="#444" stroke-width="0.8"/>
<text x="29.95" y="629.25" font-size="8.3" text-anchor="end" fill="#000" >−3</text>
<text x="150.9" y="444.65" font-size="8.2" text-anchor="middle" textLength="146.7" lengthAdjust="spacingAndGlyphs" fill="#000" >NorESM2-DIAM - Standalone model</text>
<text x="150.9" y="646.3" font-size="9.0" text-anchor="middle" textLength="133" lengthAdjust="spacingAndGlyphs" fill="#000" >Difference in Δtemperature (°C)</text>
<text transform="translate(16,537.8) rotate(-90)" font-size="8.8" text-anchor="middle" textLength="126" lengthAdjust="spacingAndGlyphs">Difference in ΔGDP/capita (%)</text>
<text x="272.2" y="22.0" font-size="8.4" text-anchor="start" textLength="19.8" lengthAdjust="spacingAndGlyphs" fill="#000" >Initial</text>
<text x="272.2" y="30.2" font-size="8.4" text-anchor="start" textLength="37.5" lengthAdjust="spacingAndGlyphs" fill="#000" >population</text>
<circle cx="283" cy="39" r="1.0" fill="none" stroke="#222" stroke-width="0.6"/>
<text x="294.3" y="40.50" font-size="7.3">10<tspan dy="-3.2" font-size="4.9">5</tspan></text>
<circle cx="283" cy="49.8" r="1.8" fill="none" stroke="#222" stroke-width="0.6"/>
<text x="294.3" y="51.30" font-size="7.3">10<tspan dy="-3.2" font-size="4.9">6</tspan></text>
<circle cx="283" cy="59.7" r="3.2" fill="none" stroke="#222" stroke-width="0.6"/>
<text x="294.3" y="61.20" font-size="7.3">10<tspan dy="-3.2" font-size="4.9">7</tspan></text>
<circle cx="283" cy="70.4" r="5.6" fill="none" stroke="#222" stroke-width="0.6"/>
<text x="294.3" y="71.90" font-size="7.3">10<tspan dy="-3.2" font-size="4.9">8</tspan></text>
<circle cx="283" cy="81.3" r="10" fill="none" stroke="#222" stroke-width="0.6"/>
<text x="294.3" y="82.80" font-size="7.3">10<tspan dy="-3.2" font-size="4.9">9</tspan></text>
<defs><linearGradient id="cba" x1="0" y1="1" x2="0" y2="0"><stop offset="0" stop-color="#0000b0"/><stop offset="0.045" stop-color="#0000ff"/><stop offset="0.075" stop-color="#aab4ff"/><stop offset="0.095" stop-color="#fdeadc"/><stop offset="0.28" stop-color="#fa9c88"/><stop offset="0.545" stop-color="#ff0000"/><stop offset="1" stop-color="#800000"/></linearGradient></defs>
<rect x="276" y="101" width="7" height="92.5" fill="url(#cba)" stroke="#555" stroke-width="0.5"/>
<line x1="283" y1="184.40" x2="285.5" y2="184.40" stroke="#333" stroke-width="0.7"/>
<text x="287" y="187.10" font-size="7.6" text-anchor="start" fill="#000" >0</text>
<line x1="283" y1="167.72" x2="285.5" y2="167.72" stroke="#333" stroke-width="0.7"/>
<text x="287" y="170.42" font-size="7.6" text-anchor="start" fill="#000" >200</text>
<line x1="283" y1="151.04" x2="285.5" y2="151.04" stroke="#333" stroke-width="0.7"/>
<text x="287" y="153.74" font-size="7.6" text-anchor="start" fill="#000" >400</text>
<line x1="283" y1="134.36" x2="285.5" y2="134.36" stroke="#333" stroke-width="0.7"/>
<text x="287" y="137.06" font-size="7.6" text-anchor="start" fill="#000" >600</text>
<line x1="283" y1="117.68" x2="285.5" y2="117.68" stroke="#333" stroke-width="0.7"/>
<text x="287" y="120.38" font-size="7.6" text-anchor="start" fill="#000" >800</text>
<line x1="283" y1="101.00" x2="285.5" y2="101.00" stroke="#333" stroke-width="0.7"/>
<text x="287" y="103.70" font-size="7.6" text-anchor="start" fill="#000" >1000</text>
<text transform="translate(307.2,147.5) rotate(90)" font-size="8.6" text-anchor="middle" textLength="83" lengthAdjust="spacingAndGlyphs">Population change (%)</text>
<text x="274.6" y="242.0" font-size="8.4" text-anchor="start" textLength="19.1" lengthAdjust="spacingAndGlyphs" fill="#000" >Initial</text>
<text x="274.6" y="249.8" font-size="8.4" text-anchor="start" textLength="39.8" lengthAdjust="spacingAndGlyphs" fill="#000" >GDP/capita</text>
<circle cx="277.8" cy="258.2" r="0.8" fill="none" stroke="#222" stroke-width="0.6"/>
<text x="289" y="260.60" font-size="6.8" text-anchor="start" fill="#000" >100$</text>
<circle cx="277.8" cy="268.2" r="1.8" fill="none" stroke="#222" stroke-width="0.6"/>
<text x="289" y="270.60" font-size="6.8" text-anchor="start" fill="#000" >1000$</text>
<circle cx="277.8" cy="278.5" r="3.0" fill="none" stroke="#222" stroke-width="0.6"/>
<text x="289" y="280.90" font-size="6.8" text-anchor="start" fill="#000" >10 000$</text>
<circle cx="277.8" cy="288.8" r="5.5" fill="none" stroke="#222" stroke-width="0.6"/>
<text x="289" y="291.20" font-size="6.8" text-anchor="start" fill="#000" >100 000$</text>
<rect x="276.1" y="402.11" width="6.4" height="8.69" fill="#fffaca"/>
<rect x="276.1" y="393.72" width="6.4" height="8.69" fill="#feefb0"/>
<rect x="276.1" y="385.33" width="6.4" height="8.69" fill="#fee397"/>
<rect x="276.1" y="376.94" width="6.4" height="8.69" fill="#fecf7f"/>
<rect x="276.1" y="368.55" width="6.4" height="8.69" fill="#fdb96c"/>
<rect x="276.1" y="360.15" width="6.4" height="8.69" fill="#fda362"/>
<rect x="276.1" y="351.76" width="6.4" height="8.69" fill="#fc7e58"/>
<rect x="276.1" y="343.37" width="6.4" height="8.69" fill="#f35e4f"/>
<rect x="276.1" y="334.98" width="6.4" height="8.69" fill="#e3444a"/>
<rect x="276.1" y="326.59" width="6.4" height="8.69" fill="#cc3450"/>
<rect x="276.1" y="318.20" width="6.4" height="8.69" fill="#aa3251"/>
<rect x="276.1" y="318.2" width="6.4" height="92.30000000000001" fill="none" stroke="#555" stroke-width="0.6"/>
<line x1="282.5" y1="402.00" x2="285" y2="402.00" stroke="#333" stroke-width="0.7"/>
<text x="287.3" y="404.70" font-size="7.6" text-anchor="start" fill="#000" >0</text>
<line x1="282.5" y1="393.62" x2="285" y2="393.62" stroke="#333" stroke-width="0.7"/>
<text x="287.3" y="396.32" font-size="7.6" text-anchor="start" fill="#000" >3</text>
<line x1="282.5" y1="385.24" x2="285" y2="385.24" stroke="#333" stroke-width="0.7"/>
<text x="287.3" y="387.94" font-size="7.6" text-anchor="start" fill="#000" >6</text>
<line x1="282.5" y1="376.86" x2="285" y2="376.86" stroke="#333" stroke-width="0.7"/>
<text x="287.3" y="379.56" font-size="7.6" text-anchor="start" fill="#000" >9</text>
<line x1="282.5" y1="368.48" x2="285" y2="368.48" stroke="#333" stroke-width="0.7"/>
<text x="287.3" y="371.18" font-size="7.6" text-anchor="start" fill="#000" >12</text>
<line x1="282.5" y1="360.11" x2="285" y2="360.11" stroke="#333" stroke-width="0.7"/>
<text x="287.3" y="362.81" font-size="7.6" text-anchor="start" fill="#000" >15</text>
<line x1="282.5" y1="351.73" x2="285" y2="351.73" stroke="#333" stroke-width="0.7"/>
<text x="287.3" y="354.43" font-size="7.6" text-anchor="start" fill="#000" >18</text>
<line x1="282.5" y1="343.35" x2="285" y2="343.35" stroke="#333" stroke-width="0.7"/>
<text x="287.3" y="346.05" font-size="7.6" text-anchor="start" fill="#000" >21</text>
<line x1="282.5" y1="334.97" x2="285" y2="334.97" stroke="#333" stroke-width="0.7"/>
<text x="287.3" y="337.67" font-size="7.6" text-anchor="start" fill="#000" >24</text>
<line x1="282.5" y1="326.59" x2="285" y2="326.59" stroke="#333" stroke-width="0.7"/>
<text x="287.3" y="329.29" font-size="7.6" text-anchor="start" fill="#000" >27</text>
<text transform="translate(300.8,364.5) rotate(90)" font-size="8.6" text-anchor="middle" textLength="85" lengthAdjust="spacingAndGlyphs">Initial temperature (°C)</text>
</svg></body></html>
